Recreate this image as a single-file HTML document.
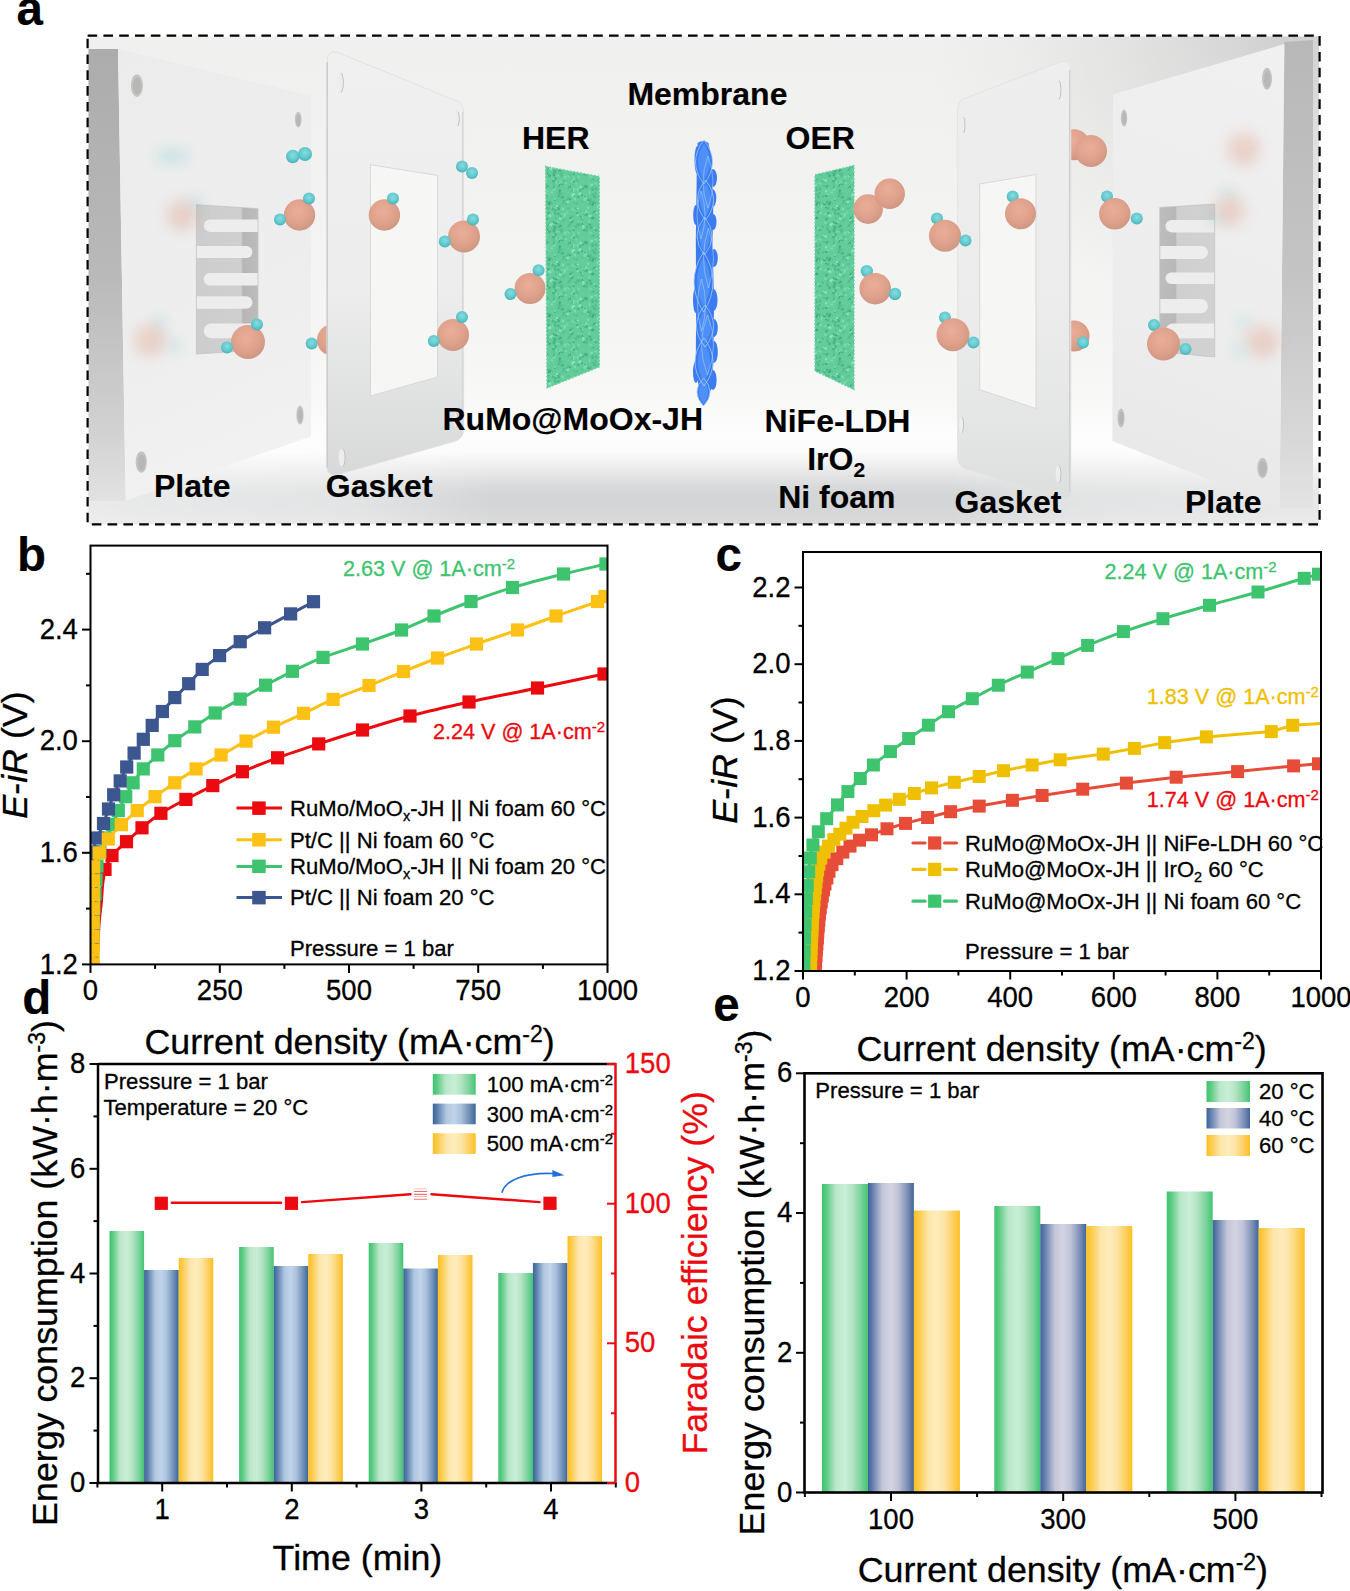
<!DOCTYPE html>
<html><head><meta charset="utf-8"><title>Figure</title>
<style>
html,body{margin:0;padding:0;background:#fff;}
body{width:1350px;height:1591px;overflow:hidden;position:relative;}
svg{position:absolute;left:0;top:0;display:block;}
text{font-family:"Liberation Sans", sans-serif;}
</style></head><body>
<svg width="1350" height="1591" viewBox="0 0 1350 1591">
<rect x="0" y="0" width="1350" height="1591" fill="#fff"/>
<defs>
<clipPath id="clipa"><rect x="88.5" y="36.5" width="1230.5" height="487.5"/></clipPath>
<linearGradient id="bgV" x1="0" y1="36" x2="0" y2="524" gradientUnits="userSpaceOnUse">
 <stop offset="0" stop-color="#f0f0ee"/><stop offset="0.3" stop-color="#f2f2f0"/><stop offset="0.6" stop-color="#f5f5f3"/>
 <stop offset="0.75" stop-color="#f8f8f7"/><stop offset="0.82" stop-color="#fdfdfd"/><stop offset="0.852" stop-color="#fbfbfb"/>
 <stop offset="0.878" stop-color="#efefef"/><stop offset="0.897" stop-color="#e6e6e6"/><stop offset="0.92" stop-color="#dadbdc"/>
 <stop offset="0.94" stop-color="#d3d5d6"/><stop offset="0.965" stop-color="#d3d5d6"/><stop offset="1" stop-color="#dadbdc"/></linearGradient>
<radialGradient id="bgTR" cx="1290" cy="36" r="330" gradientUnits="userSpaceOnUse" gradientTransform="translate(1290 36) scale(1.1 0.9) translate(-1290 -36)">
 <stop offset="0" stop-color="#cfcfcf" stop-opacity="1"/><stop offset="0.5" stop-color="#dcdcdc" stop-opacity="0.6"/><stop offset="1" stop-color="#e6e6e6" stop-opacity="0"/></radialGradient>
<linearGradient id="sideL" x1="0" y1="49" x2="0" y2="502" gradientUnits="userSpaceOnUse">
 <stop offset="0" stop-color="#acacac"/><stop offset="0.5" stop-color="#b9b9b9"/><stop offset="0.85" stop-color="#d2d2d2"/><stop offset="1" stop-color="#e2e2e2"/></linearGradient>
<linearGradient id="sideR" x1="0" y1="44" x2="0" y2="510" gradientUnits="userSpaceOnUse">
 <stop offset="0" stop-color="#b8b8b8"/><stop offset="0.5" stop-color="#c4c4c4"/><stop offset="0.85" stop-color="#d8d8d8"/><stop offset="1" stop-color="#e4e4e4"/></linearGradient>
<linearGradient id="frontL" x1="118" y1="60" x2="300" y2="480" gradientUnits="userSpaceOnUse">
 <stop offset="0" stop-color="#ececec"/><stop offset="0.6" stop-color="#eeeeee"/><stop offset="1" stop-color="#f2f2f2"/></linearGradient>
<linearGradient id="frontR" x1="1280" y1="60" x2="1120" y2="480" gradientUnits="userSpaceOnUse">
 <stop offset="0" stop-color="#f0f0f0"/><stop offset="0.6" stop-color="#ededed"/><stop offset="1" stop-color="#e8e8e8"/></linearGradient>
<linearGradient id="gask" x1="0" y1="50" x2="0" y2="480" gradientUnits="userSpaceOnUse">
 <stop offset="0" stop-color="#f0f0f0"/><stop offset="0.55" stop-color="#ededed"/><stop offset="0.75" stop-color="#e3e4e4"/><stop offset="1" stop-color="#d7d8d8"/></linearGradient>
<linearGradient id="gaskR" x1="0" y1="60" x2="0" y2="500" gradientUnits="userSpaceOnUse">
 <stop offset="0" stop-color="#eeeeee"/><stop offset="0.55" stop-color="#ececec"/><stop offset="0.8" stop-color="#e5e6e6"/><stop offset="1" stop-color="#dddede"/></linearGradient>
<linearGradient id="floorH" x1="88" y1="0" x2="1320" y2="0" gradientUnits="userSpaceOnUse">
 <stop offset="0" stop-color="#ffffff" stop-opacity="0.5"/><stop offset="0.22" stop-color="#ffffff" stop-opacity="0.35"/><stop offset="0.33" stop-color="#ffffff" stop-opacity="0"/>
 <stop offset="0.7" stop-color="#ffffff" stop-opacity="0"/><stop offset="0.8" stop-color="#ffffff" stop-opacity="0.35"/><stop offset="1" stop-color="#ffffff" stop-opacity="0.45"/></linearGradient>
<linearGradient id="chanL" x1="196" y1="0" x2="258" y2="0" gradientUnits="userSpaceOnUse">
 <stop offset="0" stop-color="#cdcdcd"/><stop offset="0.72" stop-color="#cfcfcf"/><stop offset="0.76" stop-color="#b6b6b6"/><stop offset="1" stop-color="#bcbcbc"/></linearGradient>
<linearGradient id="chanR" x1="1160" y1="0" x2="1215" y2="0" gradientUnits="userSpaceOnUse">
 <stop offset="0" stop-color="#bdbdbd"/><stop offset="0.28" stop-color="#b8b8b8"/><stop offset="0.31" stop-color="#cfcfcf"/><stop offset="1" stop-color="#d2d2d2"/></linearGradient>
<radialGradient id="oSph" cx="0.45" cy="0.38" r="0.65">
 <stop offset="0" stop-color="#eaae98"/><stop offset="0.6" stop-color="#dfa18b"/><stop offset="1" stop-color="#cc9683"/></radialGradient>
<radialGradient id="hSph" cx="0.5" cy="0.4" r="0.62">
 <stop offset="0" stop-color="#88dcdf"/><stop offset="0.6" stop-color="#62c9ce"/><stop offset="1" stop-color="#45aeb4"/></radialGradient>
<linearGradient id="memG" x1="692" y1="0" x2="719" y2="0" gradientUnits="userSpaceOnUse">
 <stop offset="0" stop-color="#3a7cf0"/><stop offset="0.3" stop-color="#4a8af6"/><stop offset="0.6" stop-color="#5291f7"/><stop offset="1" stop-color="#3677ee"/></linearGradient>
<filter id="blur6" x="-80%" y="-80%" width="260%" height="260%"><feGaussianBlur stdDeviation="7"/></filter>
<filter id="blur1"><feGaussianBlur stdDeviation="0.6"/></filter>

<pattern id="foamP" x="0" y="0" width="56" height="56" patternUnits="userSpaceOnUse"><rect width="56" height="56" fill="#63cc9b"/><ellipse cx="18.1" cy="8.4" rx="1.8" ry="0.7" fill="#4fb98a" transform="rotate(66 18.1 8.4)"/><ellipse cx="3.2" cy="28.4" rx="0.9" ry="1.0" fill="#4fb98a" transform="rotate(43 3.2 28.4)"/><ellipse cx="30.9" cy="3.3" rx="1.7" ry="1.5" fill="#47b283" transform="rotate(104 30.9 3.3)"/><ellipse cx="22.2" cy="-1.3" rx="0.9" ry="1.4" fill="#7edcb3" transform="rotate(75 22.2 -1.3)"/><ellipse cx="22.2" cy="54.7" rx="0.9" ry="1.4" fill="#7edcb3" transform="rotate(75 22.2 54.7)"/><ellipse cx="30.3" cy="32.0" rx="1.7" ry="1.2" fill="#4fb98a" transform="rotate(105 30.3 32.0)"/><ellipse cx="35.8" cy="20.9" rx="1.7" ry="0.7" fill="#47b283" transform="rotate(111 35.8 20.9)"/><ellipse cx="27.8" cy="29.8" rx="2.0" ry="1.0" fill="#5ac594" transform="rotate(65 27.8 29.8)"/><ellipse cx="13.9" cy="10.1" rx="2.0" ry="0.7" fill="#7edcb3" transform="rotate(95 13.9 10.1)"/><ellipse cx="49.0" cy="40.8" rx="1.3" ry="1.5" fill="#4fb98a" transform="rotate(92 49.0 40.8)"/><ellipse cx="9.2" cy="19.2" rx="2.3" ry="1.0" fill="#4fb98a" transform="rotate(138 9.2 19.2)"/><ellipse cx="32.1" cy="49.0" rx="1.3" ry="1.2" fill="#5ac594" transform="rotate(104 32.1 49.0)"/><ellipse cx="25.5" cy="47.0" rx="2.3" ry="1.0" fill="#4fb98a" transform="rotate(11 25.5 47.0)"/><ellipse cx="39.3" cy="36.2" rx="2.4" ry="1.3" fill="#7edcb3" transform="rotate(129 39.3 36.2)"/><ellipse cx="49.7" cy="19.4" rx="2.3" ry="0.9" fill="#4fb98a" transform="rotate(89 49.7 19.4)"/><ellipse cx="12.2" cy="16.1" rx="2.0" ry="1.0" fill="#5ac594" transform="rotate(15 12.2 16.1)"/><ellipse cx="25.2" cy="30.8" rx="2.2" ry="1.3" fill="#7edcb3" transform="rotate(127 25.2 30.8)"/><ellipse cx="-0.8" cy="38.2" rx="1.4" ry="0.8" fill="#4fb98a" transform="rotate(32 -0.8 38.2)"/><ellipse cx="55.2" cy="38.2" rx="1.4" ry="0.8" fill="#4fb98a" transform="rotate(32 55.2 38.2)"/><ellipse cx="13.0" cy="13.1" rx="1.6" ry="1.1" fill="#7edcb3" transform="rotate(51 13.0 13.1)"/><ellipse cx="8.2" cy="29.9" rx="1.8" ry="0.9" fill="#52bd8c" transform="rotate(124 8.2 29.9)"/><ellipse cx="28.9" cy="34.6" rx="1.9" ry="0.6" fill="#86e2bb" transform="rotate(72 28.9 34.6)"/><ellipse cx="22.1" cy="27.0" rx="1.4" ry="0.8" fill="#43ab7e" transform="rotate(79 22.1 27.0)"/><ellipse cx="6.2" cy="33.6" rx="1.0" ry="1.1" fill="#4fb98a" transform="rotate(171 6.2 33.6)"/><ellipse cx="34.4" cy="3.9" rx="1.1" ry="0.9" fill="#7edcb3" transform="rotate(172 34.4 3.9)"/><ellipse cx="33.7" cy="26.6" rx="1.0" ry="1.0" fill="#5ac594" transform="rotate(86 33.7 26.6)"/><ellipse cx="17.5" cy="8.1" rx="2.0" ry="1.3" fill="#5ac594" transform="rotate(149 17.5 8.1)"/><ellipse cx="9.0" cy="1.3" rx="2.3" ry="1.1" fill="#52bd8c" transform="rotate(124 9.0 1.3)"/><ellipse cx="9.0" cy="57.3" rx="2.3" ry="1.1" fill="#52bd8c" transform="rotate(124 9.0 57.3)"/><ellipse cx="51.2" cy="42.5" rx="1.3" ry="1.2" fill="#4fb98a" transform="rotate(125 51.2 42.5)"/><ellipse cx="14.6" cy="20.5" rx="1.1" ry="1.3" fill="#72d6a8" transform="rotate(115 14.6 20.5)"/><ellipse cx="34.3" cy="44.2" rx="2.0" ry="0.8" fill="#43ab7e" transform="rotate(147 34.3 44.2)"/><ellipse cx="41.4" cy="12.7" rx="1.6" ry="0.9" fill="#47b283" transform="rotate(178 41.4 12.7)"/><ellipse cx="44.2" cy="26.4" rx="1.1" ry="1.1" fill="#72d6a8" transform="rotate(81 44.2 26.4)"/><ellipse cx="52.5" cy="-0.7" rx="2.3" ry="0.9" fill="#43ab7e" transform="rotate(18 52.5 -0.7)"/><ellipse cx="52.5" cy="55.3" rx="2.3" ry="0.9" fill="#43ab7e" transform="rotate(18 52.5 55.3)"/><ellipse cx="26.3" cy="18.9" rx="1.6" ry="1.5" fill="#47b283" transform="rotate(86 26.3 18.9)"/><ellipse cx="36.6" cy="44.8" rx="0.9" ry="1.2" fill="#86e2bb" transform="rotate(141 36.6 44.8)"/><ellipse cx="42.0" cy="26.8" rx="1.1" ry="1.3" fill="#72d6a8" transform="rotate(16 42.0 26.8)"/><ellipse cx="53.0" cy="40.4" rx="1.5" ry="1.3" fill="#4fb98a" transform="rotate(130 53.0 40.4)"/><ellipse cx="9.5" cy="7.1" rx="1.0" ry="1.4" fill="#52bd8c" transform="rotate(110 9.5 7.1)"/><ellipse cx="33.4" cy="26.6" rx="2.3" ry="0.7" fill="#52bd8c" transform="rotate(4 33.4 26.6)"/><ellipse cx="44.8" cy="40.7" rx="1.0" ry="1.3" fill="#52bd8c" transform="rotate(78 44.8 40.7)"/><ellipse cx="48.8" cy="46.3" rx="1.1" ry="0.8" fill="#7edcb3" transform="rotate(90 48.8 46.3)"/><ellipse cx="42.8" cy="18.3" rx="1.7" ry="1.4" fill="#47b283" transform="rotate(164 42.8 18.3)"/><ellipse cx="19.8" cy="25.7" rx="1.7" ry="1.4" fill="#86e2bb" transform="rotate(149 19.8 25.7)"/><ellipse cx="49.2" cy="7.3" rx="1.0" ry="1.1" fill="#5ac594" transform="rotate(140 49.2 7.3)"/><ellipse cx="34.1" cy="43.5" rx="1.0" ry="0.7" fill="#4fb98a" transform="rotate(100 34.1 43.5)"/><ellipse cx="18.3" cy="29.0" rx="1.7" ry="1.3" fill="#4fb98a" transform="rotate(159 18.3 29.0)"/><ellipse cx="3.2" cy="10.7" rx="0.9" ry="0.7" fill="#5ac594" transform="rotate(101 3.2 10.7)"/><ellipse cx="42.6" cy="51.1" rx="1.5" ry="1.2" fill="#43ab7e" transform="rotate(125 42.6 51.1)"/><ellipse cx="25.3" cy="29.9" rx="1.6" ry="1.4" fill="#7edcb3" transform="rotate(166 25.3 29.9)"/><ellipse cx="50.0" cy="11.3" rx="1.5" ry="1.0" fill="#86e2bb" transform="rotate(80 50.0 11.3)"/><ellipse cx="4.1" cy="13.5" rx="0.9" ry="1.2" fill="#4fb98a" transform="rotate(161 4.1 13.5)"/><ellipse cx="8.6" cy="40.1" rx="1.9" ry="0.7" fill="#52bd8c" transform="rotate(174 8.6 40.1)"/><ellipse cx="12.3" cy="-2.7" rx="1.4" ry="1.0" fill="#43ab7e" transform="rotate(29 12.3 -2.7)"/><ellipse cx="12.3" cy="53.3" rx="1.4" ry="1.0" fill="#43ab7e" transform="rotate(29 12.3 53.3)"/><ellipse cx="24.2" cy="28.9" rx="1.3" ry="0.8" fill="#72d6a8" transform="rotate(17 24.2 28.9)"/><ellipse cx="20.5" cy="18.9" rx="1.5" ry="1.2" fill="#86e2bb" transform="rotate(60 20.5 18.9)"/><ellipse cx="34.9" cy="28.7" rx="0.9" ry="1.5" fill="#43ab7e" transform="rotate(175 34.9 28.7)"/><ellipse cx="5.9" cy="14.9" rx="0.9" ry="1.3" fill="#7edcb3" transform="rotate(136 5.9 14.9)"/><ellipse cx="45.9" cy="47.6" rx="1.9" ry="1.5" fill="#86e2bb" transform="rotate(27 45.9 47.6)"/><ellipse cx="51.5" cy="32.0" rx="1.9" ry="0.7" fill="#47b283" transform="rotate(144 51.5 32.0)"/><ellipse cx="10.3" cy="50.1" rx="1.2" ry="0.6" fill="#4fb98a" transform="rotate(144 10.3 50.1)"/><ellipse cx="4.7" cy="47.9" rx="0.9" ry="1.4" fill="#5ac594" transform="rotate(2 4.7 47.9)"/><ellipse cx="-0.3" cy="23.4" rx="2.3" ry="1.2" fill="#47b283" transform="rotate(95 -0.3 23.4)"/><ellipse cx="55.7" cy="23.4" rx="2.3" ry="1.2" fill="#47b283" transform="rotate(95 55.7 23.4)"/><ellipse cx="13.4" cy="6.1" rx="1.1" ry="0.6" fill="#43ab7e" transform="rotate(168 13.4 6.1)"/><ellipse cx="35.2" cy="29.7" rx="1.1" ry="1.0" fill="#52bd8c" transform="rotate(49 35.2 29.7)"/><ellipse cx="45.0" cy="-0.3" rx="0.9" ry="0.6" fill="#43ab7e" transform="rotate(93 45.0 -0.3)"/><ellipse cx="45.0" cy="55.7" rx="0.9" ry="0.6" fill="#43ab7e" transform="rotate(93 45.0 55.7)"/><ellipse cx="13.8" cy="25.0" rx="1.9" ry="1.2" fill="#5ac594" transform="rotate(98 13.8 25.0)"/><ellipse cx="49.8" cy="-1.7" rx="1.3" ry="0.8" fill="#43ab7e" transform="rotate(62 49.8 -1.7)"/><ellipse cx="49.8" cy="54.3" rx="1.3" ry="0.8" fill="#43ab7e" transform="rotate(62 49.8 54.3)"/><ellipse cx="46.6" cy="39.6" rx="1.8" ry="1.0" fill="#72d6a8" transform="rotate(177 46.6 39.6)"/><ellipse cx="46.9" cy="0.8" rx="1.8" ry="1.4" fill="#86e2bb" transform="rotate(29 46.9 0.8)"/><ellipse cx="46.9" cy="56.8" rx="1.8" ry="1.4" fill="#86e2bb" transform="rotate(29 46.9 56.8)"/><ellipse cx="4.7" cy="47.1" rx="2.2" ry="1.2" fill="#7edcb3" transform="rotate(108 4.7 47.1)"/><ellipse cx="38.8" cy="2.5" rx="1.1" ry="0.8" fill="#47b283" transform="rotate(47 38.8 2.5)"/><ellipse cx="38.8" cy="58.5" rx="1.1" ry="0.8" fill="#47b283" transform="rotate(47 38.8 58.5)"/><ellipse cx="-2.1" cy="-1.5" rx="1.7" ry="0.8" fill="#7edcb3" transform="rotate(39 -2.1 -1.5)"/><ellipse cx="-2.1" cy="54.5" rx="1.7" ry="0.8" fill="#7edcb3" transform="rotate(39 -2.1 54.5)"/><ellipse cx="53.9" cy="-1.5" rx="1.7" ry="0.8" fill="#7edcb3" transform="rotate(39 53.9 -1.5)"/><ellipse cx="53.9" cy="54.5" rx="1.7" ry="0.8" fill="#7edcb3" transform="rotate(39 53.9 54.5)"/><ellipse cx="10.2" cy="18.8" rx="0.9" ry="0.9" fill="#43ab7e" transform="rotate(45 10.2 18.8)"/><ellipse cx="43.5" cy="5.1" rx="2.1" ry="0.7" fill="#47b283" transform="rotate(71 43.5 5.1)"/><ellipse cx="16.8" cy="35.3" rx="0.9" ry="1.5" fill="#52bd8c" transform="rotate(118 16.8 35.3)"/><ellipse cx="40.1" cy="49.2" rx="1.4" ry="0.9" fill="#5ac594" transform="rotate(27 40.1 49.2)"/><ellipse cx="40.6" cy="36.0" rx="0.9" ry="1.4" fill="#86e2bb" transform="rotate(132 40.6 36.0)"/><ellipse cx="45.5" cy="7.8" rx="1.6" ry="1.1" fill="#47b283" transform="rotate(149 45.5 7.8)"/><ellipse cx="32.7" cy="50.0" rx="1.9" ry="1.2" fill="#43ab7e" transform="rotate(15 32.7 50.0)"/><ellipse cx="2.3" cy="35.7" rx="2.3" ry="0.9" fill="#5ac594" transform="rotate(101 2.3 35.7)"/><ellipse cx="58.3" cy="35.7" rx="2.3" ry="0.9" fill="#5ac594" transform="rotate(101 58.3 35.7)"/><ellipse cx="35.2" cy="35.1" rx="1.9" ry="1.0" fill="#47b283" transform="rotate(82 35.2 35.1)"/><ellipse cx="3.9" cy="52.2" rx="2.2" ry="0.7" fill="#4fb98a" transform="rotate(134 3.9 52.2)"/><ellipse cx="26.5" cy="45.3" rx="2.2" ry="0.8" fill="#43ab7e" transform="rotate(42 26.5 45.3)"/><ellipse cx="36.4" cy="25.8" rx="2.2" ry="0.7" fill="#7edcb3" transform="rotate(138 36.4 25.8)"/><ellipse cx="34.6" cy="36.0" rx="0.9" ry="0.7" fill="#7edcb3" transform="rotate(117 34.6 36.0)"/><ellipse cx="38.8" cy="34.8" rx="1.0" ry="1.0" fill="#5ac594" transform="rotate(48 38.8 34.8)"/><ellipse cx="37.6" cy="38.8" rx="1.9" ry="0.9" fill="#7edcb3" transform="rotate(84 37.6 38.8)"/><ellipse cx="26.1" cy="6.6" rx="2.2" ry="0.8" fill="#4fb98a" transform="rotate(169 26.1 6.6)"/><ellipse cx="1.0" cy="25.7" rx="2.1" ry="1.5" fill="#5ac594" transform="rotate(179 1.0 25.7)"/><ellipse cx="57.0" cy="25.7" rx="2.1" ry="1.5" fill="#5ac594" transform="rotate(179 57.0 25.7)"/><ellipse cx="21.7" cy="51.3" rx="2.3" ry="0.7" fill="#4fb98a" transform="rotate(26 21.7 51.3)"/><ellipse cx="29.3" cy="-2.6" rx="1.0" ry="1.3" fill="#7edcb3" transform="rotate(160 29.3 -2.6)"/><ellipse cx="29.3" cy="53.4" rx="1.0" ry="1.3" fill="#7edcb3" transform="rotate(160 29.3 53.4)"/><ellipse cx="39.4" cy="13.0" rx="2.2" ry="1.0" fill="#47b283" transform="rotate(29 39.4 13.0)"/><ellipse cx="-2.8" cy="38.2" rx="1.4" ry="1.3" fill="#86e2bb" transform="rotate(62 -2.8 38.2)"/><ellipse cx="53.2" cy="38.2" rx="1.4" ry="1.3" fill="#86e2bb" transform="rotate(62 53.2 38.2)"/><ellipse cx="17.7" cy="47.1" rx="0.8" ry="1.3" fill="#86e2bb" transform="rotate(22 17.7 47.1)"/><ellipse cx="51.9" cy="39.9" rx="2.2" ry="0.9" fill="#72d6a8" transform="rotate(12 51.9 39.9)"/><ellipse cx="21.8" cy="48.7" rx="0.9" ry="1.4" fill="#7edcb3" transform="rotate(154 21.8 48.7)"/><ellipse cx="15.7" cy="2.9" rx="1.9" ry="1.2" fill="#52bd8c" transform="rotate(45 15.7 2.9)"/><ellipse cx="15.7" cy="58.9" rx="1.9" ry="1.2" fill="#52bd8c" transform="rotate(45 15.7 58.9)"/><ellipse cx="14.9" cy="28.6" rx="1.1" ry="0.9" fill="#86e2bb" transform="rotate(159 14.9 28.6)"/><ellipse cx="45.5" cy="35.3" rx="2.3" ry="1.4" fill="#43ab7e" transform="rotate(130 45.5 35.3)"/><ellipse cx="2.8" cy="41.0" rx="1.5" ry="1.3" fill="#7edcb3" transform="rotate(87 2.8 41.0)"/><ellipse cx="58.8" cy="41.0" rx="1.5" ry="1.3" fill="#7edcb3" transform="rotate(87 58.8 41.0)"/><ellipse cx="51.1" cy="30.8" rx="1.1" ry="1.0" fill="#7edcb3" transform="rotate(54 51.1 30.8)"/><ellipse cx="41.4" cy="-1.3" rx="1.2" ry="1.2" fill="#7edcb3" transform="rotate(87 41.4 -1.3)"/><ellipse cx="41.4" cy="54.7" rx="1.2" ry="1.2" fill="#7edcb3" transform="rotate(87 41.4 54.7)"/><ellipse cx="37.5" cy="6.7" rx="1.8" ry="0.7" fill="#5ac594" transform="rotate(99 37.5 6.7)"/><ellipse cx="25.4" cy="18.6" rx="2.0" ry="1.0" fill="#43ab7e" transform="rotate(44 25.4 18.6)"/><ellipse cx="9.8" cy="31.1" rx="1.3" ry="0.9" fill="#43ab7e" transform="rotate(160 9.8 31.1)"/><ellipse cx="42.0" cy="23.1" rx="1.5" ry="1.1" fill="#86e2bb" transform="rotate(49 42.0 23.1)"/><ellipse cx="42.1" cy="27.9" rx="1.7" ry="0.9" fill="#43ab7e" transform="rotate(17 42.1 27.9)"/><ellipse cx="50.2" cy="21.5" rx="1.8" ry="1.0" fill="#7edcb3" transform="rotate(153 50.2 21.5)"/><ellipse cx="48.9" cy="1.2" rx="0.9" ry="1.2" fill="#5ac594" transform="rotate(174 48.9 1.2)"/><ellipse cx="48.9" cy="57.2" rx="0.9" ry="1.2" fill="#5ac594" transform="rotate(174 48.9 57.2)"/><ellipse cx="27.4" cy="4.1" rx="2.3" ry="1.4" fill="#5ac594" transform="rotate(175 27.4 4.1)"/><ellipse cx="13.9" cy="6.1" rx="1.0" ry="1.1" fill="#4fb98a" transform="rotate(169 13.9 6.1)"/><ellipse cx="40.4" cy="36.3" rx="2.0" ry="1.0" fill="#47b283" transform="rotate(0 40.4 36.3)"/><ellipse cx="7.0" cy="31.9" rx="0.9" ry="1.2" fill="#52bd8c" transform="rotate(113 7.0 31.9)"/><ellipse cx="29.6" cy="24.5" rx="2.0" ry="0.7" fill="#7edcb3" transform="rotate(94 29.6 24.5)"/><ellipse cx="32.6" cy="21.7" rx="1.2" ry="1.1" fill="#47b283" transform="rotate(97 32.6 21.7)"/><ellipse cx="-0.2" cy="15.6" rx="1.3" ry="1.4" fill="#43ab7e" transform="rotate(86 -0.2 15.6)"/><ellipse cx="55.8" cy="15.6" rx="1.3" ry="1.4" fill="#43ab7e" transform="rotate(86 55.8 15.6)"/><ellipse cx="13.1" cy="13.8" rx="2.3" ry="1.2" fill="#7edcb3" transform="rotate(10 13.1 13.8)"/><ellipse cx="10.9" cy="49.6" rx="1.8" ry="0.7" fill="#43ab7e" transform="rotate(120 10.9 49.6)"/><ellipse cx="51.8" cy="12.7" rx="0.9" ry="0.9" fill="#86e2bb" transform="rotate(65 51.8 12.7)"/><ellipse cx="22.2" cy="0.4" rx="1.3" ry="1.4" fill="#4fb98a" transform="rotate(37 22.2 0.4)"/><ellipse cx="22.2" cy="56.4" rx="1.3" ry="1.4" fill="#4fb98a" transform="rotate(37 22.2 56.4)"/><ellipse cx="-1.7" cy="17.5" rx="2.1" ry="0.8" fill="#43ab7e" transform="rotate(48 -1.7 17.5)"/><ellipse cx="54.3" cy="17.5" rx="2.1" ry="0.8" fill="#43ab7e" transform="rotate(48 54.3 17.5)"/><ellipse cx="49.8" cy="6.1" rx="1.8" ry="1.1" fill="#43ab7e" transform="rotate(87 49.8 6.1)"/><ellipse cx="51.0" cy="3.2" rx="1.8" ry="1.4" fill="#47b283" transform="rotate(38 51.0 3.2)"/><ellipse cx="-1.4" cy="7.9" rx="0.9" ry="0.7" fill="#86e2bb" transform="rotate(81 -1.4 7.9)"/><ellipse cx="54.6" cy="7.9" rx="0.9" ry="0.7" fill="#86e2bb" transform="rotate(81 54.6 7.9)"/><ellipse cx="39.9" cy="17.6" rx="1.0" ry="0.7" fill="#52bd8c" transform="rotate(59 39.9 17.6)"/><ellipse cx="10.4" cy="52.4" rx="2.0" ry="0.6" fill="#86e2bb" transform="rotate(151 10.4 52.4)"/><ellipse cx="-0.8" cy="24.8" rx="1.0" ry="0.7" fill="#4fb98a" transform="rotate(63 -0.8 24.8)"/><ellipse cx="55.2" cy="24.8" rx="1.0" ry="0.7" fill="#4fb98a" transform="rotate(63 55.2 24.8)"/><ellipse cx="-2.5" cy="6.9" rx="2.3" ry="0.8" fill="#72d6a8" transform="rotate(138 -2.5 6.9)"/><ellipse cx="53.5" cy="6.9" rx="2.3" ry="0.8" fill="#72d6a8" transform="rotate(138 53.5 6.9)"/><ellipse cx="17.3" cy="45.0" rx="0.9" ry="1.2" fill="#43ab7e" transform="rotate(67 17.3 45.0)"/><ellipse cx="51.5" cy="10.8" rx="1.4" ry="1.4" fill="#47b283" transform="rotate(114 51.5 10.8)"/><ellipse cx="13.9" cy="35.0" rx="1.4" ry="0.9" fill="#5ac594" transform="rotate(11 13.9 35.0)"/><ellipse cx="51.5" cy="14.4" rx="2.0" ry="1.4" fill="#72d6a8" transform="rotate(65 51.5 14.4)"/><ellipse cx="18.8" cy="-2.6" rx="0.9" ry="1.3" fill="#72d6a8" transform="rotate(166 18.8 -2.6)"/><ellipse cx="18.8" cy="53.4" rx="0.9" ry="1.3" fill="#72d6a8" transform="rotate(166 18.8 53.4)"/><ellipse cx="16.7" cy="40.4" rx="1.8" ry="1.3" fill="#4fb98a" transform="rotate(4 16.7 40.4)"/><ellipse cx="13.1" cy="26.6" rx="2.3" ry="1.5" fill="#86e2bb" transform="rotate(142 13.1 26.6)"/><ellipse cx="51.2" cy="45.6" rx="1.0" ry="1.0" fill="#47b283" transform="rotate(144 51.2 45.6)"/><ellipse cx="41.4" cy="46.1" rx="2.0" ry="1.1" fill="#72d6a8" transform="rotate(155 41.4 46.1)"/><ellipse cx="25.8" cy="43.9" rx="1.8" ry="1.1" fill="#86e2bb" transform="rotate(136 25.8 43.9)"/><ellipse cx="13.8" cy="3.6" rx="0.9" ry="1.1" fill="#72d6a8" transform="rotate(29 13.8 3.6)"/><ellipse cx="23.9" cy="5.9" rx="0.9" ry="1.2" fill="#43ab7e" transform="rotate(17 23.9 5.9)"/><ellipse cx="27.9" cy="39.7" rx="1.5" ry="0.8" fill="#86e2bb" transform="rotate(83 27.9 39.7)"/><ellipse cx="49.9" cy="13.2" rx="1.7" ry="1.3" fill="#4fb98a" transform="rotate(140 49.9 13.2)"/><ellipse cx="16.5" cy="15.6" rx="1.2" ry="0.8" fill="#7edcb3" transform="rotate(36 16.5 15.6)"/><ellipse cx="13.9" cy="13.7" rx="1.0" ry="1.4" fill="#43ab7e" transform="rotate(59 13.9 13.7)"/><ellipse cx="22.2" cy="-0.4" rx="1.6" ry="0.8" fill="#4fb98a" transform="rotate(118 22.2 -0.4)"/><ellipse cx="22.2" cy="55.6" rx="1.6" ry="0.8" fill="#4fb98a" transform="rotate(118 22.2 55.6)"/><ellipse cx="-0.5" cy="5.7" rx="1.6" ry="1.3" fill="#5ac594" transform="rotate(165 -0.5 5.7)"/><ellipse cx="55.5" cy="5.7" rx="1.6" ry="1.3" fill="#5ac594" transform="rotate(165 55.5 5.7)"/><ellipse cx="2.3" cy="16.4" rx="1.0" ry="0.8" fill="#43ab7e" transform="rotate(167 2.3 16.4)"/><ellipse cx="58.3" cy="16.4" rx="1.0" ry="0.8" fill="#43ab7e" transform="rotate(167 58.3 16.4)"/><ellipse cx="20.8" cy="48.5" rx="1.5" ry="0.8" fill="#47b283" transform="rotate(19 20.8 48.5)"/><ellipse cx="33.4" cy="34.7" rx="1.1" ry="0.9" fill="#52bd8c" transform="rotate(8 33.4 34.7)"/><ellipse cx="-0.0" cy="2.1" rx="2.0" ry="1.4" fill="#47b283" transform="rotate(147 -0.0 2.1)"/><ellipse cx="-0.0" cy="58.1" rx="2.0" ry="1.4" fill="#47b283" transform="rotate(147 -0.0 58.1)"/><ellipse cx="56.0" cy="2.1" rx="2.0" ry="1.4" fill="#47b283" transform="rotate(147 56.0 2.1)"/><ellipse cx="56.0" cy="58.1" rx="2.0" ry="1.4" fill="#47b283" transform="rotate(147 56.0 58.1)"/><ellipse cx="22.9" cy="20.8" rx="1.8" ry="0.7" fill="#47b283" transform="rotate(143 22.9 20.8)"/><ellipse cx="30.7" cy="3.5" rx="1.0" ry="1.0" fill="#52bd8c" transform="rotate(115 30.7 3.5)"/><ellipse cx="5.1" cy="9.2" rx="1.9" ry="1.0" fill="#7edcb3" transform="rotate(120 5.1 9.2)"/><ellipse cx="23.4" cy="2.9" rx="2.0" ry="1.4" fill="#86e2bb" transform="rotate(75 23.4 2.9)"/><ellipse cx="23.4" cy="58.9" rx="2.0" ry="1.4" fill="#86e2bb" transform="rotate(75 23.4 58.9)"/><ellipse cx="48.4" cy="-0.2" rx="1.4" ry="0.8" fill="#86e2bb" transform="rotate(37 48.4 -0.2)"/><ellipse cx="48.4" cy="55.8" rx="1.4" ry="0.8" fill="#86e2bb" transform="rotate(37 48.4 55.8)"/><ellipse cx="0.3" cy="50.5" rx="1.5" ry="1.3" fill="#86e2bb" transform="rotate(104 0.3 50.5)"/><ellipse cx="56.3" cy="50.5" rx="1.5" ry="1.3" fill="#86e2bb" transform="rotate(104 56.3 50.5)"/><ellipse cx="20.4" cy="43.3" rx="1.0" ry="0.6" fill="#52bd8c" transform="rotate(115 20.4 43.3)"/><ellipse cx="50.9" cy="5.0" rx="1.8" ry="0.9" fill="#52bd8c" transform="rotate(26 50.9 5.0)"/><ellipse cx="15.9" cy="29.2" rx="2.3" ry="0.7" fill="#5ac594" transform="rotate(136 15.9 29.2)"/><ellipse cx="44.4" cy="45.1" rx="1.3" ry="1.4" fill="#47b283" transform="rotate(176 44.4 45.1)"/><ellipse cx="27.0" cy="3.0" rx="2.3" ry="0.9" fill="#52bd8c" transform="rotate(115 27.0 3.0)"/><ellipse cx="27.0" cy="59.0" rx="2.3" ry="0.9" fill="#52bd8c" transform="rotate(115 27.0 59.0)"/><ellipse cx="48.0" cy="34.8" rx="1.8" ry="0.8" fill="#5ac594" transform="rotate(33 48.0 34.8)"/><ellipse cx="12.2" cy="22.4" rx="1.6" ry="0.9" fill="#4fb98a" transform="rotate(27 12.2 22.4)"/><ellipse cx="-1.6" cy="45.7" rx="1.1" ry="1.4" fill="#47b283" transform="rotate(120 -1.6 45.7)"/><ellipse cx="54.4" cy="45.7" rx="1.1" ry="1.4" fill="#47b283" transform="rotate(120 54.4 45.7)"/><ellipse cx="18.2" cy="21.8" rx="1.5" ry="1.4" fill="#7edcb3" transform="rotate(117 18.2 21.8)"/><ellipse cx="17.3" cy="14.0" rx="1.4" ry="0.9" fill="#5ac594" transform="rotate(32 17.3 14.0)"/><ellipse cx="0.2" cy="-0.8" rx="1.5" ry="1.0" fill="#5ac594" transform="rotate(151 0.2 -0.8)"/><ellipse cx="0.2" cy="55.2" rx="1.5" ry="1.0" fill="#5ac594" transform="rotate(151 0.2 55.2)"/><ellipse cx="56.2" cy="-0.8" rx="1.5" ry="1.0" fill="#5ac594" transform="rotate(151 56.2 -0.8)"/><ellipse cx="56.2" cy="55.2" rx="1.5" ry="1.0" fill="#5ac594" transform="rotate(151 56.2 55.2)"/><ellipse cx="45.4" cy="22.4" rx="0.9" ry="0.9" fill="#72d6a8" transform="rotate(17 45.4 22.4)"/><ellipse cx="24.8" cy="28.6" rx="0.9" ry="1.2" fill="#4fb98a" transform="rotate(166 24.8 28.6)"/><ellipse cx="17.6" cy="40.3" rx="0.9" ry="1.3" fill="#86e2bb" transform="rotate(117 17.6 40.3)"/><ellipse cx="43.9" cy="1.4" rx="0.9" ry="1.2" fill="#4fb98a" transform="rotate(35 43.9 1.4)"/><ellipse cx="43.9" cy="57.4" rx="0.9" ry="1.2" fill="#4fb98a" transform="rotate(35 43.9 57.4)"/><ellipse cx="-1.0" cy="27.5" rx="2.3" ry="1.4" fill="#52bd8c" transform="rotate(124 -1.0 27.5)"/><ellipse cx="55.0" cy="27.5" rx="2.3" ry="1.4" fill="#52bd8c" transform="rotate(124 55.0 27.5)"/><ellipse cx="40.4" cy="12.4" rx="2.1" ry="1.1" fill="#7edcb3" transform="rotate(29 40.4 12.4)"/><ellipse cx="50.2" cy="15.4" rx="2.1" ry="0.7" fill="#5ac594" transform="rotate(37 50.2 15.4)"/><ellipse cx="14.7" cy="28.3" rx="1.3" ry="0.6" fill="#52bd8c" transform="rotate(73 14.7 28.3)"/><ellipse cx="35.6" cy="15.6" rx="1.3" ry="0.9" fill="#7edcb3" transform="rotate(21 35.6 15.6)"/><ellipse cx="29.7" cy="35.6" rx="1.4" ry="1.4" fill="#4fb98a" transform="rotate(45 29.7 35.6)"/><ellipse cx="30.0" cy="48.0" rx="2.0" ry="0.9" fill="#86e2bb" transform="rotate(178 30.0 48.0)"/><ellipse cx="32.3" cy="20.2" rx="2.0" ry="1.0" fill="#52bd8c" transform="rotate(111 32.3 20.2)"/><ellipse cx="-2.4" cy="16.6" rx="1.6" ry="0.9" fill="#72d6a8" transform="rotate(132 -2.4 16.6)"/><ellipse cx="53.6" cy="16.6" rx="1.6" ry="0.9" fill="#72d6a8" transform="rotate(132 53.6 16.6)"/><ellipse cx="41.8" cy="12.4" rx="1.3" ry="1.2" fill="#86e2bb" transform="rotate(92 41.8 12.4)"/><ellipse cx="50.2" cy="7.4" rx="1.2" ry="1.2" fill="#47b283" transform="rotate(10 50.2 7.4)"/><ellipse cx="31.8" cy="17.0" rx="1.6" ry="1.1" fill="#86e2bb" transform="rotate(105 31.8 17.0)"/><ellipse cx="33.0" cy="11.4" rx="1.8" ry="1.0" fill="#52bd8c" transform="rotate(3 33.0 11.4)"/><ellipse cx="44.9" cy="39.6" rx="1.5" ry="0.7" fill="#52bd8c" transform="rotate(157 44.9 39.6)"/><ellipse cx="43.8" cy="22.5" rx="1.2" ry="0.6" fill="#72d6a8" transform="rotate(107 43.8 22.5)"/><ellipse cx="32.4" cy="33.7" rx="1.6" ry="1.0" fill="#52bd8c" transform="rotate(163 32.4 33.7)"/><ellipse cx="2.5" cy="29.8" rx="1.4" ry="0.8" fill="#47b283" transform="rotate(164 2.5 29.8)"/><ellipse cx="58.5" cy="29.8" rx="1.4" ry="0.8" fill="#47b283" transform="rotate(164 58.5 29.8)"/><ellipse cx="5.9" cy="34.3" rx="1.9" ry="0.8" fill="#86e2bb" transform="rotate(36 5.9 34.3)"/><ellipse cx="34.1" cy="28.4" rx="1.8" ry="1.3" fill="#52bd8c" transform="rotate(92 34.1 28.4)"/><ellipse cx="3.6" cy="35.1" rx="2.4" ry="1.3" fill="#5ac594" transform="rotate(129 3.6 35.1)"/><ellipse cx="0.4" cy="47.3" rx="2.0" ry="1.0" fill="#5ac594" transform="rotate(32 0.4 47.3)"/><ellipse cx="56.4" cy="47.3" rx="2.0" ry="1.0" fill="#5ac594" transform="rotate(32 56.4 47.3)"/><ellipse cx="-0.2" cy="14.6" rx="1.8" ry="0.7" fill="#7edcb3" transform="rotate(128 -0.2 14.6)"/><ellipse cx="55.8" cy="14.6" rx="1.8" ry="0.7" fill="#7edcb3" transform="rotate(128 55.8 14.6)"/><ellipse cx="14.9" cy="31.0" rx="1.5" ry="1.3" fill="#7edcb3" transform="rotate(53 14.9 31.0)"/><ellipse cx="52.0" cy="50.1" rx="0.9" ry="1.1" fill="#52bd8c" transform="rotate(47 52.0 50.1)"/><ellipse cx="13.2" cy="41.7" rx="2.3" ry="1.3" fill="#72d6a8" transform="rotate(35 13.2 41.7)"/><ellipse cx="21.8" cy="33.7" rx="1.4" ry="1.4" fill="#5ac594" transform="rotate(85 21.8 33.7)"/><ellipse cx="29.7" cy="0.4" rx="0.8" ry="1.5" fill="#43ab7e" transform="rotate(103 29.7 0.4)"/><ellipse cx="29.7" cy="56.4" rx="0.8" ry="1.5" fill="#43ab7e" transform="rotate(103 29.7 56.4)"/><ellipse cx="17.2" cy="11.9" rx="1.8" ry="0.7" fill="#52bd8c" transform="rotate(26 17.2 11.9)"/><ellipse cx="1.5" cy="6.0" rx="2.3" ry="0.9" fill="#52bd8c" transform="rotate(126 1.5 6.0)"/><ellipse cx="57.5" cy="6.0" rx="2.3" ry="0.9" fill="#52bd8c" transform="rotate(126 57.5 6.0)"/><ellipse cx="1.7" cy="7.8" rx="1.8" ry="0.6" fill="#4fb98a" transform="rotate(133 1.7 7.8)"/><ellipse cx="57.7" cy="7.8" rx="1.8" ry="0.6" fill="#4fb98a" transform="rotate(133 57.7 7.8)"/><ellipse cx="3.7" cy="33.1" rx="1.4" ry="1.3" fill="#4fb98a" transform="rotate(158 3.7 33.1)"/><ellipse cx="42.3" cy="39.8" rx="1.4" ry="0.8" fill="#43ab7e" transform="rotate(20 42.3 39.8)"/><ellipse cx="1.9" cy="47.5" rx="2.1" ry="1.2" fill="#7edcb3" transform="rotate(86 1.9 47.5)"/><ellipse cx="57.9" cy="47.5" rx="2.1" ry="1.2" fill="#7edcb3" transform="rotate(86 57.9 47.5)"/><ellipse cx="7.4" cy="44.4" rx="1.8" ry="0.9" fill="#72d6a8" transform="rotate(76 7.4 44.4)"/><ellipse cx="1.2" cy="14.4" rx="1.3" ry="1.2" fill="#72d6a8" transform="rotate(164 1.2 14.4)"/><ellipse cx="57.2" cy="14.4" rx="1.3" ry="1.2" fill="#72d6a8" transform="rotate(164 57.2 14.4)"/><ellipse cx="43.1" cy="33.7" rx="1.6" ry="0.9" fill="#47b283" transform="rotate(142 43.1 33.7)"/><ellipse cx="1.7" cy="29.0" rx="1.0" ry="1.0" fill="#47b283" transform="rotate(97 1.7 29.0)"/><ellipse cx="57.7" cy="29.0" rx="1.0" ry="1.0" fill="#47b283" transform="rotate(97 57.7 29.0)"/><ellipse cx="12.1" cy="48.3" rx="0.9" ry="1.3" fill="#52bd8c" transform="rotate(78 12.1 48.3)"/><ellipse cx="29.3" cy="16.1" rx="2.0" ry="0.6" fill="#72d6a8" transform="rotate(88 29.3 16.1)"/><ellipse cx="27.5" cy="44.6" rx="1.1" ry="1.0" fill="#72d6a8" transform="rotate(172 27.5 44.6)"/><ellipse cx="28.8" cy="32.4" rx="1.1" ry="1.3" fill="#43ab7e" transform="rotate(90 28.8 32.4)"/><ellipse cx="6.2" cy="35.6" rx="0.9" ry="1.3" fill="#4fb98a" transform="rotate(113 6.2 35.6)"/><ellipse cx="19.9" cy="22.5" rx="1.4" ry="1.4" fill="#4fb98a" transform="rotate(76 19.9 22.5)"/><ellipse cx="36.2" cy="20.8" rx="1.3" ry="1.0" fill="#52bd8c" transform="rotate(68 36.2 20.8)"/><ellipse cx="49.5" cy="13.1" rx="1.5" ry="1.1" fill="#47b283" transform="rotate(63 49.5 13.1)"/><ellipse cx="18.3" cy="8.7" rx="2.1" ry="1.2" fill="#72d6a8" transform="rotate(31 18.3 8.7)"/><ellipse cx="24.6" cy="43.3" rx="1.7" ry="0.7" fill="#5ac594" transform="rotate(116 24.6 43.3)"/><ellipse cx="39.0" cy="28.4" rx="1.2" ry="1.3" fill="#52bd8c" transform="rotate(130 39.0 28.4)"/><ellipse cx="-1.4" cy="40.5" rx="1.8" ry="0.9" fill="#43ab7e" transform="rotate(59 -1.4 40.5)"/><ellipse cx="54.6" cy="40.5" rx="1.8" ry="0.9" fill="#43ab7e" transform="rotate(59 54.6 40.5)"/><ellipse cx="10.6" cy="-1.4" rx="2.0" ry="0.7" fill="#4fb98a" transform="rotate(35 10.6 -1.4)"/><ellipse cx="10.6" cy="54.6" rx="2.0" ry="0.7" fill="#4fb98a" transform="rotate(35 10.6 54.6)"/><ellipse cx="8.5" cy="8.3" rx="1.3" ry="0.9" fill="#7edcb3" transform="rotate(35 8.5 8.3)"/><ellipse cx="35.7" cy="6.0" rx="1.1" ry="0.9" fill="#47b283" transform="rotate(2 35.7 6.0)"/><ellipse cx="47.8" cy="24.4" rx="1.2" ry="1.5" fill="#7edcb3" transform="rotate(83 47.8 24.4)"/><ellipse cx="7.9" cy="33.8" rx="1.4" ry="1.3" fill="#86e2bb" transform="rotate(126 7.9 33.8)"/><ellipse cx="32.9" cy="36.2" rx="2.2" ry="1.2" fill="#43ab7e" transform="rotate(122 32.9 36.2)"/><ellipse cx="35.9" cy="25.4" rx="1.3" ry="1.2" fill="#4fb98a" transform="rotate(161 35.9 25.4)"/><ellipse cx="13.6" cy="22.4" rx="1.9" ry="0.7" fill="#86e2bb" transform="rotate(87 13.6 22.4)"/><ellipse cx="1.1" cy="48.1" rx="1.6" ry="1.2" fill="#52bd8c" transform="rotate(161 1.1 48.1)"/><ellipse cx="57.1" cy="48.1" rx="1.6" ry="1.2" fill="#52bd8c" transform="rotate(161 57.1 48.1)"/><ellipse cx="18.4" cy="0.6" rx="2.1" ry="1.4" fill="#4fb98a" transform="rotate(7 18.4 0.6)"/><ellipse cx="18.4" cy="56.6" rx="2.1" ry="1.4" fill="#4fb98a" transform="rotate(7 18.4 56.6)"/><ellipse cx="30.4" cy="9.0" rx="2.1" ry="1.4" fill="#72d6a8" transform="rotate(18 30.4 9.0)"/></pattern>
</defs>
<g clip-path="url(#clipa)">
<rect x="88" y="36" width="1232" height="489" fill="url(#bgV)"/>
<rect x="88" y="36" width="1232" height="420" fill="url(#bgTR)"/>
<rect x="88" y="440" width="1232" height="85" fill="url(#floorH)"/>
<polygon points="86,49 118,49 125.7,500.8 86,501" fill="url(#sideL)"/>
<polygon points="118,49 311,96 311,436.5 125.7,500.8" fill="url(#frontL)"/>
<ellipse cx="136.9" cy="85.6" rx="6" ry="11.3" fill="#c3c3c1"/><ellipse cx="137.20000000000002" cy="86.1" rx="4.2" ry="8.5" fill="#b7b7b5"/>
<ellipse cx="298.2" cy="119.6" rx="3.3" ry="7.8" fill="#c3c3c1"/><ellipse cx="298.5" cy="120.1" rx="2.3" ry="5.8" fill="#b7b7b5"/>
<ellipse cx="300" cy="415" rx="3.6" ry="9.4" fill="#c3c3c1"/><ellipse cx="300.3" cy="415.5" rx="2.5" ry="7.1" fill="#b7b7b5"/>
<ellipse cx="141.3" cy="462" rx="5.6" ry="10.8" fill="#c3c3c1"/><ellipse cx="141.60000000000002" cy="462.5" rx="3.9" ry="8.1" fill="#b7b7b5"/>
<clipPath id="chL"><polygon points="196.4,204.7 258,208.7 258,350 196.4,354"/></clipPath>
<polygon points="196.4,204.7 258,208.7 258,350 196.4,354" fill="url(#chanL)"/>
<g clip-path="url(#chL)">
<rect x="203.8" y="219.4" width="80" height="12.5" rx="6.2" fill="#ededed"/>
<rect x="170" y="246" width="82.4" height="11.9" rx="5.9" fill="#ededed"/>
<rect x="203.8" y="273" width="80" height="12.6" rx="6.3" fill="#ededed"/>
<rect x="170" y="296.3" width="82.4" height="12.5" rx="6.2" fill="#ededed"/>
<rect x="203.8" y="323.5" width="80" height="14.7" rx="7.3" fill="#ededed"/>
</g>
<polygon points="196.4,204.7 258,208.7 258,350 196.4,354" fill="none" stroke="#c4c4c4" stroke-width="0.8"/>
<g filter="url(#blur6)" opacity="0.4"><circle cx="182" cy="215" r="15" fill="url(#oSph)"/><circle cx="150" cy="340" r="16" fill="url(#oSph)"/></g>
<g filter="url(#blur6)" opacity="0.45"><circle cx="165" cy="156" r="6" fill="url(#hSph)"/><circle cx="180" cy="156" r="6" fill="url(#hSph)"/><circle cx="175" cy="346" r="5" fill="url(#hSph)"/><circle cx="160" cy="322" r="5" fill="url(#hSph)"/><circle cx="196" cy="203" r="5" fill="url(#hSph)"/></g>
<circle cx="248" cy="342" r="17" fill="url(#oSph)"/><circle cx="257" cy="324.5" r="6" fill="url(#hSph)"/><circle cx="227" cy="347.6" r="6" fill="url(#hSph)"/>
<circle cx="299.5" cy="215" r="15.7" fill="url(#oSph)"/><circle cx="309" cy="198.5" r="6" fill="url(#hSph)"/><circle cx="280" cy="219.6" r="6" fill="url(#hSph)"/>
<circle cx="292.8" cy="156.5" r="6.8" fill="url(#hSph)"/><circle cx="305" cy="154" r="7" fill="url(#hSph)"/>
<circle cx="333" cy="340" r="16" fill="url(#oSph)"/><circle cx="311.7" cy="343.5" r="6" fill="url(#hSph)"/>
<path d="M337,52 Q327,50 327,62 L327,466 Q327,477 338,474.5 L454,441.5 Q463.6,439 463.6,429 L463.6,112 Q463.6,102 454,100 Z" fill="url(#gask)" stroke="#e2e2e2" stroke-width="1"/>
<path d="M327.2,62 L327.2,468" stroke="#c8c8c8" stroke-width="1.3"/>
<path d="M462.6,112 L462.6,430" stroke="#d8d8d8" stroke-width="1.5"/>
<polygon points="370.5,164.7 437.5,175.4 437.5,377 370.5,396" fill="#f6f6f4" stroke="#d6d6d6" stroke-width="0.9"/>
<ellipse cx="340.8" cy="82.7" rx="3" ry="10" fill="#bdbdbd"/><ellipse cx="339.90000000000003" cy="82.7" rx="3" ry="10" fill="#ededed"/>
<ellipse cx="457.8" cy="118.9" rx="1.9" ry="7.4" fill="#bdbdbd"/><ellipse cx="456.90000000000003" cy="118.9" rx="1.9" ry="7.4" fill="#ededed"/>
<ellipse cx="342.6" cy="457.7" rx="3" ry="9" fill="#bdbdbd"/><ellipse cx="341.70000000000005" cy="457.7" rx="3" ry="9" fill="#ededed"/>
<ellipse cx="456.5" cy="420" rx="2" ry="7" fill="#bdbdbd"/><ellipse cx="455.6" cy="420" rx="2" ry="7" fill="#ededed"/>
<circle cx="384.4" cy="215" r="15.7" fill="url(#oSph)"/><circle cx="393" cy="198.5" r="6" fill="url(#hSph)"/>
<circle cx="464" cy="236.5" r="16" fill="url(#oSph)"/><circle cx="473" cy="219.6" r="6" fill="url(#hSph)"/><circle cx="444.8" cy="241.6" r="6" fill="url(#hSph)"/>
<circle cx="453" cy="335" r="16" fill="url(#oSph)"/><circle cx="462" cy="317" r="6" fill="url(#hSph)"/><circle cx="433.8" cy="341" r="6" fill="url(#hSph)"/>
<circle cx="462" cy="166.5" r="6" fill="url(#hSph)"/><circle cx="472" cy="173" r="6" fill="url(#hSph)"/>
<polygon points="545.6,166.4 599.3,176.5 599.3,366.9 547,387.9" fill="url(#foamP)"/>
<polygon points="545.6,166.4 599.3,176.5 599.3,366.9 547,387.9" fill="none" stroke="#6fd2a4" stroke-width="1.3" stroke-dasharray="2 1.5"/>
<circle cx="530" cy="288.5" r="15.5" fill="url(#oSph)"/><circle cx="538.6" cy="270.3" r="6" fill="url(#hSph)"/><circle cx="510.5" cy="294" r="6" fill="url(#hSph)"/>
<g>
<path d="M697.5,143 Q703,139 708.5,143 L712,160 L706,170 L699,168 Z" fill="#3f7ef0"/>
<path d="M697,150 Q703,143 710,150 L713.5,200 L712.5,240 L714,300 L713.5,360 L712,388 Q705,402 699,392 L695.8,360 L696.2,300 L695.8,240 L696.5,190 Z" fill="#3b7bf0"/>
<path d="M704,140 Q721.0,162 704,184 Q687.0,162 704,140 Z" fill="#3a7aef"/>
<path d="M705.5,180 Q721.5,200 705.5,220 Q689.5,200 705.5,180 Z" fill="#3a7aef"/>
<path d="M704.5,217 Q719.5,236 704.5,255 Q689.5,236 704.5,217 Z" fill="#3a7aef"/>
<path d="M703.5,252 Q722.5,282 703.5,312 Q684.5,282 703.5,252 Z" fill="#3a7aef"/>
<path d="M705,305 Q722.0,326 705,347 Q688.0,326 705,305 Z" fill="#3a7aef"/>
<path d="M704,338 Q722,362 704,386 Q686,362 704,338 Z" fill="#3a7aef"/>
<path d="M703.5,378 Q716.5,392 703.5,406 Q690.5,392 703.5,378 Z" fill="#3a7aef"/>
<ellipse cx="713" cy="178" rx="4" ry="9" fill="#3c7cf0"/>
<ellipse cx="712.5" cy="198" rx="3.8" ry="9" fill="#3c7cf0"/>
<ellipse cx="713" cy="222" rx="3.5" ry="8" fill="#3c7cf0"/>
<ellipse cx="714" cy="258" rx="3.8" ry="9" fill="#3c7cf0"/>
<ellipse cx="713.5" cy="300" rx="4" ry="11" fill="#3c7cf0"/>
<ellipse cx="714" cy="328" rx="3.8" ry="9" fill="#3c7cf0"/>
<ellipse cx="714" cy="352" rx="3.8" ry="11" fill="#3c7cf0"/>
<ellipse cx="713" cy="380" rx="3.6" ry="10" fill="#3c7cf0"/>
<ellipse cx="696" cy="300" rx="3" ry="13" fill="#3c7cf0"/>
<ellipse cx="695.8" cy="215" rx="2.6" ry="10" fill="#3c7cf0"/>
<ellipse cx="696" cy="372" rx="3" ry="11" fill="#3c7cf0"/>
<ellipse cx="697.5" cy="160" rx="3" ry="14" fill="#3c7cf0"/>
<path d="M704,143.3 Q715.9,162 704,180.7 Q692.1,162 704,143.3 Z" fill="#4f8ff8"/>
<path d="M705.5,183.0 Q716.7,200 705.5,217.0 Q694.3,200 705.5,183.0 Z" fill="#4f8ff8"/>
<path d="M704.5,219.85 Q715.0,236 704.5,252.15 Q694.0,236 704.5,219.85 Z" fill="#4f8ff8"/>
<path d="M703.5,256.5 Q716.8,282 703.5,307.5 Q690.2,282 703.5,256.5 Z" fill="#4f8ff8"/>
<path d="M705,308.15 Q716.9,326 705,343.85 Q693.1,326 705,308.15 Z" fill="#4f8ff8"/>
<path d="M704,341.6 Q716.6,362 704,382.4 Q691.4,362 704,341.6 Z" fill="#4f8ff8"/>
<path d="M703.5,380.1 Q712.6,392 703.5,403.9 Q694.4,392 703.5,380.1 Z" fill="#4f8ff8"/>
<path d="M704,140 Q721.0,162 704,184 Q687.0,162 704,140 Z" fill="none" stroke="#a6d0ff" stroke-opacity="0.75" stroke-width="1"/>
<path d="M705.5,180 Q721.5,200 705.5,220 Q689.5,200 705.5,180 Z" fill="none" stroke="#a6d0ff" stroke-opacity="0.75" stroke-width="1"/>
<path d="M704.5,217 Q719.5,236 704.5,255 Q689.5,236 704.5,217 Z" fill="none" stroke="#a6d0ff" stroke-opacity="0.75" stroke-width="1"/>
<path d="M703.5,252 Q722.5,282 703.5,312 Q684.5,282 703.5,252 Z" fill="none" stroke="#a6d0ff" stroke-opacity="0.75" stroke-width="1"/>
<path d="M705,305 Q722.0,326 705,347 Q688.0,326 705,305 Z" fill="none" stroke="#a6d0ff" stroke-opacity="0.75" stroke-width="1"/>
<path d="M704,338 Q722,362 704,386 Q686,362 704,338 Z" fill="none" stroke="#a6d0ff" stroke-opacity="0.75" stroke-width="1"/>
<path d="M703.5,378 Q716.5,392 703.5,406 Q690.5,392 703.5,378 Z" fill="none" stroke="#a6d0ff" stroke-opacity="0.75" stroke-width="1"/>
<path d="M708,156 Q718,182 708,208 Q698,182 708,156 Z" fill="none" stroke="#b5dbff" stroke-opacity="0.55" stroke-width="0.9"/>
<path d="M708.5,228 Q718.5,258 708.5,288 Q698.5,258 708.5,228 Z" fill="none" stroke="#b5dbff" stroke-opacity="0.55" stroke-width="0.9"/>
<path d="M707.5,315 Q719.5,345 707.5,375 Q695.5,345 707.5,315 Z" fill="none" stroke="#b5dbff" stroke-opacity="0.55" stroke-width="0.9"/>
<path d="M701,191 Q709,215 701,239 Q693,215 701,191 Z" fill="none" stroke="#b5dbff" stroke-opacity="0.55" stroke-width="0.9"/>
<path d="M701.5,279 Q709.5,305 701.5,331 Q693.5,305 701.5,279 Z" fill="none" stroke="#b5dbff" stroke-opacity="0.55" stroke-width="0.9"/>
</g>
<polygon points="815,174.8 854,165.5 854,389.6 815,371" fill="url(#foamP)"/>
<polygon points="815,174.8 854,165.5 854,389.6 815,371" fill="none" stroke="#6fd2a4" stroke-width="1.3" stroke-dasharray="2 1.5"/>
<circle cx="868.1" cy="209.1" r="14.8" fill="url(#oSph)"/><circle cx="889.7" cy="193.7" r="15.2" fill="url(#oSph)"/>
<circle cx="866.8" cy="271.1" r="6.2" fill="url(#hSph)"/><circle cx="875.2" cy="288.7" r="15.8" fill="url(#oSph)"/><circle cx="895" cy="294" r="6.2" fill="url(#hSph)"/>
<circle cx="1074" cy="144.7" r="15.5" fill="url(#oSph)"/><circle cx="1091" cy="151" r="16" fill="url(#oSph)"/>
<circle cx="1074" cy="336" r="15.5" fill="url(#oSph)"/><circle cx="1083" cy="342.6" r="6" fill="url(#hSph)"/>
<path d="M967,97.5 Q957.7,99 957.7,110 L957.7,456 Q957.7,466.7 967,469 L1061,499 Q1070.8,502 1070.8,491 L1070.8,70 Q1070.8,59 1061,61.5 Z" fill="url(#gaskR)" stroke="#e2e2e2" stroke-width="1"/>
<path d="M1069.6,70 L1069.6,492" stroke="#d0d0d0" stroke-width="1.3"/>
<polygon points="979.7,184 1036,174.5 1036,408.6 979.7,389.7" fill="#f6f6f4" stroke="#d6d6d6" stroke-width="0.9"/>
<ellipse cx="963.5" cy="125" rx="2" ry="8" fill="#bdbdbd"/><ellipse cx="962.6" cy="125" rx="2" ry="8" fill="#ededed"/>
<ellipse cx="1059" cy="90" rx="2.4" ry="9.5" fill="#bdbdbd"/><ellipse cx="1058.1" cy="90" rx="2.4" ry="9.5" fill="#ededed"/>
<ellipse cx="962" cy="425" rx="2" ry="8" fill="#bdbdbd"/><ellipse cx="961.1" cy="425" rx="2" ry="8" fill="#ededed"/>
<ellipse cx="1059" cy="474" rx="2.4" ry="9" fill="#bdbdbd"/><ellipse cx="1058.1" cy="474" rx="2.4" ry="9" fill="#ededed"/>
<circle cx="937" cy="218.5" r="6" fill="url(#hSph)"/><circle cx="945" cy="235.8" r="16" fill="url(#oSph)"/><circle cx="965.5" cy="240.5" r="6" fill="url(#hSph)"/>
<circle cx="945" cy="317.5" r="6" fill="url(#hSph)"/><circle cx="953" cy="334.7" r="16.5" fill="url(#oSph)"/><circle cx="973.4" cy="342.6" r="6" fill="url(#hSph)"/>
<circle cx="1012.7" cy="196.5" r="6" fill="url(#hSph)"/><circle cx="1020.5" cy="213.8" r="15.5" fill="url(#oSph)"/>
<polygon points="1284.4,42 1313,40 1313,508 1279.5,507.8" fill="url(#sideR)"/>
<polygon points="1113,94.4 1284.4,44 1279.5,507.8 1112.4,441.1" fill="url(#frontR)"/>
<ellipse cx="1267" cy="78.7" rx="5" ry="11" fill="#c3c3c1"/><ellipse cx="1267.3" cy="79.2" rx="3.5" ry="8.2" fill="#b7b7b5"/>
<ellipse cx="1124" cy="118" rx="3.2" ry="8.6" fill="#c3c3c1"/><ellipse cx="1124.3" cy="118.5" rx="2.2" ry="6.4" fill="#b7b7b5"/>
<ellipse cx="1121" cy="418" rx="3.5" ry="9.4" fill="#c3c3c1"/><ellipse cx="1121.3" cy="418.5" rx="2.4" ry="7.1" fill="#b7b7b5"/>
<ellipse cx="1262.5" cy="468" rx="5.2" ry="10.2" fill="#c3c3c1"/><ellipse cx="1262.8" cy="468.5" rx="3.6" ry="7.6" fill="#b7b7b5"/>
<clipPath id="chR"><polygon points="1159.8,207.5 1214.7,204.1 1214.7,356.9 1159.8,352"/></clipPath>
<polygon points="1159.8,207.5 1214.7,204.1 1214.7,356.9 1159.8,352" fill="url(#chanR)"/>
<g clip-path="url(#chR)">
<rect x="1165.5" y="220" width="80" height="12.4" rx="6.2" fill="#ededed"/>
<rect x="1130" y="246" width="77.9" height="13.0" rx="6.5" fill="#ededed"/>
<rect x="1165.5" y="272.6" width="80" height="11.3" rx="5.6" fill="#ededed"/>
<rect x="1130" y="299" width="77.9" height="14.3" rx="7.2" fill="#ededed"/>
<rect x="1165.5" y="323.5" width="80" height="14.7" rx="7.3" fill="#ededed"/>
</g>
<polygon points="1159.8,207.5 1214.7,204.1 1214.7,356.9 1159.8,352" fill="none" stroke="#c4c4c4" stroke-width="0.8"/>
<g filter="url(#blur6)" opacity="0.4"><circle cx="1243.6" cy="149" r="16" fill="url(#oSph)"/><circle cx="1229.5" cy="210.6" r="15" fill="url(#oSph)"/><circle cx="1262.5" cy="341" r="16" fill="url(#oSph)"/></g>
<g filter="url(#blur6)" opacity="0.4"><circle cx="1228" cy="192" r="5" fill="url(#hSph)"/><circle cx="1215" cy="218" r="5" fill="url(#hSph)"/><circle cx="1243" cy="322" r="5" fill="url(#hSph)"/><circle cx="1240" cy="350" r="5" fill="url(#hSph)"/></g>
<circle cx="1107" cy="196.5" r="6" fill="url(#hSph)"/><circle cx="1114.8" cy="213.8" r="15.7" fill="url(#oSph)"/><circle cx="1136.8" cy="218.5" r="6" fill="url(#hSph)"/>
<circle cx="1154" cy="325" r="6" fill="url(#hSph)"/><circle cx="1163.5" cy="344" r="16.5" fill="url(#oSph)"/><circle cx="1185.5" cy="349" r="6" fill="url(#hSph)"/>
</g>
<text x="627.4" y="105.3" font-size="32" font-weight="bold" stroke="#000" stroke-width="0.15">Membrane</text>
<text x="522" y="149.2" font-size="32" font-weight="bold" stroke="#000" stroke-width="0.15">HER</text>
<text x="785.6" y="149.2" font-size="32" font-weight="bold" stroke="#000" stroke-width="0.15">OER</text>
<text x="442.5" y="429.6" font-size="32" font-weight="bold" stroke="#000" stroke-width="0.15">RuMo@MoOx-JH</text>
<text x="764.6" y="432.4" font-size="32" font-weight="bold" stroke="#000" stroke-width="0.15">NiFe-LDH</text>
<text x="807.2" y="469.6" font-size="32" font-weight="bold" stroke="#000" stroke-width="0.15">IrO<tspan font-size="21" dy="7.5">2</tspan></text>
<text x="778.2" y="507.6" font-size="32" font-weight="bold" stroke="#000" stroke-width="0.15">Ni foam</text>
<text x="154" y="497" font-size="32" font-weight="bold" stroke="#000" stroke-width="0.15">Plate</text>
<text x="325.8" y="497" font-size="32" font-weight="bold" stroke="#000" stroke-width="0.15">Gasket</text>
<text x="954.6" y="512.5" font-size="32" font-weight="bold" stroke="#000" stroke-width="0.15">Gasket</text>
<text x="1185" y="512.5" font-size="32" font-weight="bold" stroke="#000" stroke-width="0.15">Plate</text>
<text x="16.5" y="25" font-size="47.5" font-weight="bold" stroke="#000" stroke-width="0.15">a</text>
<rect x="87.6" y="35.7" width="1232" height="488.6" fill="none" stroke="#000" stroke-width="2.2" stroke-dasharray="9.6 6.2"/>
<text x="17" y="571" font-size="47.5" font-weight="bold" stroke="#000" stroke-width="0.15">b</text>
<defs><clipPath id="clipb"><rect x="90.5" y="545.6" width="517.0" height="418.79999999999995"/></clipPath></defs>
<g clip-path="url(#clipb)">
<path d="M105.0,869.4 C104.6,872.0 103.2,879.6 102.6,885.0 C102.0,890.4 102.0,895.3 101.4,902.0 C100.8,908.7 99.7,914.7 99.0,925.0 C98.3,935.3 97.3,957.5 97.0,964.0" fill="none" stroke="#ea0a0f" stroke-width="3" stroke-linejoin="round"/>
<path d="M604.0,674.0 C592.9,676.3 560.0,683.3 537.5,688.0 C515.0,692.7 490.2,697.3 469.0,702.0 C447.8,706.7 427.8,711.3 410.0,716.0 C392.2,720.7 377.7,725.4 362.5,730.0 C347.3,734.6 332.8,739.3 318.7,743.9 C304.6,748.5 290.3,753.2 277.6,757.8 C264.9,762.4 253.2,767.1 242.4,771.7 C231.6,776.3 222.2,781.0 212.8,785.6 C203.4,790.2 194.6,794.8 185.9,799.4 C177.2,804.0 168.2,808.6 160.9,813.3 C153.6,818.0 147.7,823.1 142.0,827.8 C136.3,832.5 131.5,837.1 126.5,841.7 C121.5,846.3 115.6,850.9 112.0,855.5 C108.4,860.1 106.2,867.1 105.0,869.4" fill="none" stroke="#ea0a0f" stroke-width="3" stroke-linejoin="round"/>
<rect x="597.4" y="667.4" width="13.2" height="13.2" fill="#ea0a0f"/>
<rect x="530.9" y="681.4" width="13.2" height="13.2" fill="#ea0a0f"/>
<rect x="462.4" y="695.4" width="13.2" height="13.2" fill="#ea0a0f"/>
<rect x="403.4" y="709.4" width="13.2" height="13.2" fill="#ea0a0f"/>
<rect x="355.9" y="723.4" width="13.2" height="13.2" fill="#ea0a0f"/>
<rect x="312.1" y="737.3" width="13.2" height="13.2" fill="#ea0a0f"/>
<rect x="271.0" y="751.2" width="13.2" height="13.2" fill="#ea0a0f"/>
<rect x="235.8" y="765.1" width="13.2" height="13.2" fill="#ea0a0f"/>
<rect x="206.2" y="779.0" width="13.2" height="13.2" fill="#ea0a0f"/>
<rect x="179.3" y="792.8" width="13.2" height="13.2" fill="#ea0a0f"/>
<rect x="154.3" y="806.7" width="13.2" height="13.2" fill="#ea0a0f"/>
<rect x="135.4" y="821.2" width="13.2" height="13.2" fill="#ea0a0f"/>
<rect x="119.9" y="835.1" width="13.2" height="13.2" fill="#ea0a0f"/>
<rect x="105.4" y="848.9" width="13.2" height="13.2" fill="#ea0a0f"/>
<rect x="98.4" y="862.8" width="13.2" height="13.2" fill="#ea0a0f"/>
<path d="M606.0,564.0 C598.9,565.7 579.1,570.1 563.5,574.0 C547.9,577.9 527.9,582.9 512.5,587.5 C497.1,592.1 484.1,596.8 471.0,601.5 C457.9,606.2 445.6,611.2 434.0,616.0 C422.4,620.8 413.4,625.3 401.5,630.0 C389.6,634.7 375.6,639.4 362.5,644.0 C349.4,648.6 334.7,652.9 323.0,657.4 C311.3,661.9 302.0,666.7 292.4,671.3 C282.8,675.9 274.3,680.6 265.6,685.2 C256.9,689.8 248.6,694.5 240.2,699.1 C231.8,703.7 222.8,708.4 215.2,713.0 C207.6,717.6 201.5,722.3 194.8,726.9 C188.1,731.5 181.0,736.0 174.8,740.7 C168.6,745.4 163.1,750.3 157.8,755.0 C152.6,759.7 147.4,764.3 143.3,768.9 C139.2,773.5 136.0,778.2 133.1,782.8 C130.2,787.4 128.2,792.1 125.7,796.7 C123.2,801.3 120.5,806.0 118.3,810.6 C116.1,815.2 114.5,819.8 112.5,824.4 C110.5,829.0 108.1,833.4 106.0,838.0 C103.9,842.6 101.5,847.3 100.0,852.0 C98.5,856.7 97.7,861.3 97.0,866.0 C96.3,870.7 96.3,875.3 96.0,880.0 C95.7,884.7 95.3,889.3 95.0,894.0 C94.7,898.7 94.2,903.3 94.0,908.0 C93.8,912.7 93.7,917.3 93.5,922.0 C93.3,926.7 93.2,931.3 93.0,936.0 C92.8,940.7 92.7,945.3 92.5,950.0 C92.3,954.7 92.1,961.7 92.0,964.0" fill="none" stroke="#3ec46f" stroke-width="3" stroke-linejoin="round"/>
<rect x="599.4" y="557.4" width="13.2" height="13.2" fill="#3ec46f"/>
<rect x="556.9" y="567.4" width="13.2" height="13.2" fill="#3ec46f"/>
<rect x="505.9" y="580.9" width="13.2" height="13.2" fill="#3ec46f"/>
<rect x="464.4" y="594.9" width="13.2" height="13.2" fill="#3ec46f"/>
<rect x="427.4" y="609.4" width="13.2" height="13.2" fill="#3ec46f"/>
<rect x="394.9" y="623.4" width="13.2" height="13.2" fill="#3ec46f"/>
<rect x="355.9" y="637.4" width="13.2" height="13.2" fill="#3ec46f"/>
<rect x="316.4" y="650.8" width="13.2" height="13.2" fill="#3ec46f"/>
<rect x="285.8" y="664.7" width="13.2" height="13.2" fill="#3ec46f"/>
<rect x="259.0" y="678.6" width="13.2" height="13.2" fill="#3ec46f"/>
<rect x="233.6" y="692.5" width="13.2" height="13.2" fill="#3ec46f"/>
<rect x="208.6" y="706.4" width="13.2" height="13.2" fill="#3ec46f"/>
<rect x="188.2" y="720.3" width="13.2" height="13.2" fill="#3ec46f"/>
<rect x="168.2" y="734.1" width="13.2" height="13.2" fill="#3ec46f"/>
<rect x="151.2" y="748.4" width="13.2" height="13.2" fill="#3ec46f"/>
<rect x="136.7" y="762.3" width="13.2" height="13.2" fill="#3ec46f"/>
<rect x="126.5" y="776.2" width="13.2" height="13.2" fill="#3ec46f"/>
<rect x="119.1" y="790.1" width="13.2" height="13.2" fill="#3ec46f"/>
<rect x="111.7" y="804.0" width="13.2" height="13.2" fill="#3ec46f"/>
<rect x="105.9" y="817.8" width="13.2" height="13.2" fill="#3ec46f"/>
<rect x="99.4" y="831.4" width="13.2" height="13.2" fill="#3ec46f"/>
<rect x="93.4" y="845.4" width="13.2" height="13.2" fill="#3ec46f"/>
<rect x="90.4" y="859.4" width="13.2" height="13.2" fill="#3ec46f"/>
<rect x="89.4" y="873.4" width="13.2" height="13.2" fill="#3ec46f"/>
<rect x="88.4" y="887.4" width="13.2" height="13.2" fill="#3ec46f"/>
<rect x="87.4" y="901.4" width="13.2" height="13.2" fill="#3ec46f"/>
<rect x="86.9" y="915.4" width="13.2" height="13.2" fill="#3ec46f"/>
<rect x="86.4" y="929.4" width="13.2" height="13.2" fill="#3ec46f"/>
<rect x="85.9" y="943.4" width="13.2" height="13.2" fill="#3ec46f"/>
<rect x="85.4" y="957.4" width="13.2" height="13.2" fill="#3ec46f"/>
<path d="M313.5,601.7 C309.7,603.7 298.8,609.5 290.6,613.9 C282.5,618.2 273.0,623.2 264.6,627.8 C256.2,632.4 247.7,637.1 240.2,641.7 C232.7,646.3 225.9,651.0 219.6,655.6 C213.3,660.2 207.3,664.7 202.2,669.4 C197.0,674.1 193.3,679.0 188.7,683.7 C184.1,688.4 179.2,693.0 174.8,697.6 C170.4,702.2 166.2,706.9 162.4,711.5 C158.6,716.1 155.4,720.8 152.2,725.4 C149.0,730.0 146.3,734.7 143.3,739.3 C140.3,743.9 136.9,748.5 134.1,753.1 C131.3,757.7 129.0,762.4 126.7,767.0 C124.4,771.6 122.4,776.3 120.2,780.9 C118.0,785.5 115.7,790.1 113.7,794.8 C111.8,799.5 110.2,804.2 108.5,809.0 C106.8,813.8 105.4,818.7 103.5,823.5 C101.6,828.3 98.8,833.2 97.0,838.0 C95.2,842.8 93.8,847.3 93.0,852.0 C92.2,856.7 92.2,861.3 92.0,866.0 C91.8,870.7 91.6,875.3 91.5,880.0 C91.4,884.7 91.4,889.3 91.3,894.0 C91.2,898.7 91.0,903.3 91.0,908.0 C91.0,912.7 91.0,917.3 91.0,922.0 C91.0,926.7 91.0,931.3 91.0,936.0 C91.0,940.7 91.0,945.3 91.0,950.0 C91.0,954.7 91.0,961.7 91.0,964.0" fill="none" stroke="#3c568f" stroke-width="3" stroke-linejoin="round"/>
<rect x="306.9" y="595.1" width="13.2" height="13.2" fill="#3c568f"/>
<rect x="284.0" y="607.3" width="13.2" height="13.2" fill="#3c568f"/>
<rect x="258.0" y="621.2" width="13.2" height="13.2" fill="#3c568f"/>
<rect x="233.6" y="635.1" width="13.2" height="13.2" fill="#3c568f"/>
<rect x="213.0" y="649.0" width="13.2" height="13.2" fill="#3c568f"/>
<rect x="195.6" y="662.8" width="13.2" height="13.2" fill="#3c568f"/>
<rect x="182.1" y="677.1" width="13.2" height="13.2" fill="#3c568f"/>
<rect x="168.2" y="691.0" width="13.2" height="13.2" fill="#3c568f"/>
<rect x="155.8" y="704.9" width="13.2" height="13.2" fill="#3c568f"/>
<rect x="145.6" y="718.8" width="13.2" height="13.2" fill="#3c568f"/>
<rect x="136.7" y="732.7" width="13.2" height="13.2" fill="#3c568f"/>
<rect x="127.5" y="746.5" width="13.2" height="13.2" fill="#3c568f"/>
<rect x="120.1" y="760.4" width="13.2" height="13.2" fill="#3c568f"/>
<rect x="113.6" y="774.3" width="13.2" height="13.2" fill="#3c568f"/>
<rect x="107.1" y="788.2" width="13.2" height="13.2" fill="#3c568f"/>
<rect x="101.9" y="802.4" width="13.2" height="13.2" fill="#3c568f"/>
<rect x="96.9" y="816.9" width="13.2" height="13.2" fill="#3c568f"/>
<rect x="90.4" y="831.4" width="13.2" height="13.2" fill="#3c568f"/>
<rect x="86.4" y="845.4" width="13.2" height="13.2" fill="#3c568f"/>
<rect x="85.4" y="859.4" width="13.2" height="13.2" fill="#3c568f"/>
<rect x="84.9" y="873.4" width="13.2" height="13.2" fill="#3c568f"/>
<rect x="84.7" y="887.4" width="13.2" height="13.2" fill="#3c568f"/>
<rect x="84.4" y="901.4" width="13.2" height="13.2" fill="#3c568f"/>
<rect x="84.4" y="915.4" width="13.2" height="13.2" fill="#3c568f"/>
<rect x="84.4" y="929.4" width="13.2" height="13.2" fill="#3c568f"/>
<rect x="84.4" y="943.4" width="13.2" height="13.2" fill="#3c568f"/>
<rect x="84.4" y="957.4" width="13.2" height="13.2" fill="#3c568f"/>
<path d="M605.0,596.5 C603.8,597.3 605.7,598.2 597.5,601.5 C589.3,604.8 569.3,611.2 556.0,616.0 C542.7,620.8 530.8,625.3 517.5,630.0 C504.2,634.7 489.8,639.3 476.5,644.0 C463.2,648.7 449.7,653.4 437.5,658.0 C425.3,662.6 414.9,666.9 403.5,671.5 C392.1,676.1 380.7,680.9 369.0,685.5 C357.3,690.1 344.0,694.8 333.1,699.4 C322.2,704.0 313.4,708.7 303.5,713.3 C293.6,717.9 283.1,722.6 273.5,727.2 C263.9,731.8 254.8,736.5 246.1,741.1 C237.4,745.7 229.4,750.4 221.1,755.0 C212.8,759.6 203.8,764.3 196.1,768.9 C188.4,773.5 181.7,778.2 174.8,782.8 C168.0,787.4 161.3,792.1 155.0,796.7 C148.7,801.3 142.8,805.9 137.2,810.6 C131.6,815.3 126.2,820.0 121.4,824.7 C116.6,829.4 112.0,834.3 108.3,839.0 C104.6,843.7 101.7,848.3 99.2,852.9 C96.8,857.5 94.6,862.2 93.6,866.8 C92.6,871.4 93.5,876.1 93.4,880.7 C93.4,885.3 93.3,890.0 93.3,894.6 C93.3,899.2 93.2,903.9 93.2,908.5 C93.2,913.1 93.2,917.8 93.2,922.4 C93.2,927.0 93.2,931.7 93.2,936.3 C93.2,940.9 93.2,945.6 93.2,950.2 C93.2,954.8 93.2,961.7 93.2,964.0" fill="none" stroke="#fdc014" stroke-width="3" stroke-linejoin="round"/>
<rect x="598.4" y="589.9" width="13.2" height="13.2" fill="#fdc014"/>
<rect x="590.9" y="594.9" width="13.2" height="13.2" fill="#fdc014"/>
<rect x="549.4" y="609.4" width="13.2" height="13.2" fill="#fdc014"/>
<rect x="510.9" y="623.4" width="13.2" height="13.2" fill="#fdc014"/>
<rect x="469.9" y="637.4" width="13.2" height="13.2" fill="#fdc014"/>
<rect x="430.9" y="651.4" width="13.2" height="13.2" fill="#fdc014"/>
<rect x="396.9" y="664.9" width="13.2" height="13.2" fill="#fdc014"/>
<rect x="362.4" y="678.9" width="13.2" height="13.2" fill="#fdc014"/>
<rect x="326.5" y="692.8" width="13.2" height="13.2" fill="#fdc014"/>
<rect x="296.9" y="706.7" width="13.2" height="13.2" fill="#fdc014"/>
<rect x="266.9" y="720.6" width="13.2" height="13.2" fill="#fdc014"/>
<rect x="239.5" y="734.5" width="13.2" height="13.2" fill="#fdc014"/>
<rect x="214.5" y="748.4" width="13.2" height="13.2" fill="#fdc014"/>
<rect x="189.5" y="762.3" width="13.2" height="13.2" fill="#fdc014"/>
<rect x="168.2" y="776.2" width="13.2" height="13.2" fill="#fdc014"/>
<rect x="148.4" y="790.1" width="13.2" height="13.2" fill="#fdc014"/>
<rect x="130.6" y="804.0" width="13.2" height="13.2" fill="#fdc014"/>
<rect x="114.8" y="818.1" width="13.2" height="13.2" fill="#fdc014"/>
<rect x="101.7" y="832.4" width="13.2" height="13.2" fill="#fdc014"/>
<rect x="92.6" y="846.3" width="13.2" height="13.2" fill="#fdc014"/>
<rect x="87.0" y="860.2" width="13.2" height="13.2" fill="#fdc014"/>
<rect x="86.8" y="874.1" width="13.2" height="13.2" fill="#fdc014"/>
<rect x="86.7" y="888.0" width="13.2" height="13.2" fill="#fdc014"/>
<rect x="86.6" y="901.9" width="13.2" height="13.2" fill="#fdc014"/>
<rect x="86.6" y="915.8" width="13.2" height="13.2" fill="#fdc014"/>
<rect x="86.6" y="929.7" width="13.2" height="13.2" fill="#fdc014"/>
<rect x="86.6" y="943.6" width="13.2" height="13.2" fill="#fdc014"/>
<rect x="86.6" y="957.4" width="13.2" height="13.2" fill="#fdc014"/>
</g>
<rect x="90.5" y="545.6" width="517.0" height="418.79999999999995" fill="none" stroke="#000" stroke-width="2"/>
<line x1="90.5" y1="964.4" x2="90.5" y2="972.9" stroke="#000" stroke-width="2"/>
<text transform="translate(90.5,1000) scale(1,1.05)" font-size="27.5" text-anchor="middle" fill="#000"  stroke="#000" stroke-width="0.3">0</text>
<line x1="219.8" y1="964.4" x2="219.8" y2="972.9" stroke="#000" stroke-width="2"/>
<text transform="translate(219.8,1000) scale(1,1.05)" font-size="27.5" text-anchor="middle" fill="#000"  stroke="#000" stroke-width="0.3">250</text>
<line x1="349.0" y1="964.4" x2="349.0" y2="972.9" stroke="#000" stroke-width="2"/>
<text transform="translate(349.0,1000) scale(1,1.05)" font-size="27.5" text-anchor="middle" fill="#000"  stroke="#000" stroke-width="0.3">500</text>
<line x1="478.2" y1="964.4" x2="478.2" y2="972.9" stroke="#000" stroke-width="2"/>
<text transform="translate(478.2,1000) scale(1,1.05)" font-size="27.5" text-anchor="middle" fill="#000"  stroke="#000" stroke-width="0.3">750</text>
<line x1="607.5" y1="964.4" x2="607.5" y2="972.9" stroke="#000" stroke-width="2"/>
<text transform="translate(607.5,1000) scale(1,1.05)" font-size="27.5" text-anchor="middle" fill="#000"  stroke="#000" stroke-width="0.3">1000</text>
<line x1="155.1" y1="964.4" x2="155.1" y2="968.9" stroke="#000" stroke-width="2"/>
<line x1="284.4" y1="964.4" x2="284.4" y2="968.9" stroke="#000" stroke-width="2"/>
<line x1="413.6" y1="964.4" x2="413.6" y2="968.9" stroke="#000" stroke-width="2"/>
<line x1="542.9" y1="964.4" x2="542.9" y2="968.9" stroke="#000" stroke-width="2"/>
<line x1="82.0" y1="964.4" x2="90.5" y2="964.4" stroke="#000" stroke-width="2"/>
<text transform="translate(77.9,973.5) scale(1,1.05)" font-size="27.5" text-anchor="end" fill="#000"  stroke="#000" stroke-width="0.3">1.2</text>
<line x1="82.0" y1="852.8" x2="90.5" y2="852.8" stroke="#000" stroke-width="2"/>
<text transform="translate(77.9,861.9) scale(1,1.05)" font-size="27.5" text-anchor="end" fill="#000"  stroke="#000" stroke-width="0.3">1.6</text>
<line x1="82.0" y1="741.2" x2="90.5" y2="741.2" stroke="#000" stroke-width="2"/>
<text transform="translate(77.9,750.3) scale(1,1.05)" font-size="27.5" text-anchor="end" fill="#000"  stroke="#000" stroke-width="0.3">2.0</text>
<line x1="82.0" y1="629.6" x2="90.5" y2="629.6" stroke="#000" stroke-width="2"/>
<text transform="translate(77.9,638.7) scale(1,1.05)" font-size="27.5" text-anchor="end" fill="#000"  stroke="#000" stroke-width="0.3">2.4</text>
<line x1="86.0" y1="908.6" x2="90.5" y2="908.6" stroke="#000" stroke-width="2"/>
<line x1="86.0" y1="797.0" x2="90.5" y2="797.0" stroke="#000" stroke-width="2"/>
<line x1="86.0" y1="685.4" x2="90.5" y2="685.4" stroke="#000" stroke-width="2"/>
<line x1="86.0" y1="573.8" x2="90.5" y2="573.8" stroke="#000" stroke-width="2"/>
<text x="144.4" y="1054" font-size="35.8" stroke="#000" stroke-width="0.3">Current density (mA·cm<tspan font-size="23" dy="-12">-2</tspan><tspan dy="12">)</tspan></text>
<text transform="translate(26.5,755) rotate(-90)" font-size="35.8" text-anchor="middle" stroke="#000" stroke-width="0.3"><tspan font-style="italic">E</tspan>-<tspan font-style="italic">iR</tspan> (V)</text>
<line x1="236.5" y1="808.1" x2="282" y2="808.1" stroke="#ea0a0f" stroke-width="3"/>
<rect x="252.2" y="801.4" width="13.5" height="13.5" fill="#ea0a0f"/>
<text x="290" y="816" font-size="22.1" stroke="#000" stroke-width="0.3">RuMo/MoO<tspan font-size="14.5" dy="5">x</tspan><tspan dy="-5">-JH || Ni foam 60 °C</tspan></text>
<line x1="236.5" y1="839.7" x2="282" y2="839.7" stroke="#fdc014" stroke-width="3"/>
<rect x="252.2" y="833.0" width="13.5" height="13.5" fill="#fdc014"/>
<text x="290" y="847.5" font-size="22.1" stroke="#000" stroke-width="0.3">Pt/C || Ni foam 60 °C</text>
<line x1="236.5" y1="866.4" x2="282" y2="866.4" stroke="#3ec46f" stroke-width="3"/>
<rect x="252.2" y="859.6" width="13.5" height="13.5" fill="#3ec46f"/>
<text x="290" y="874.3" font-size="22.1" stroke="#000" stroke-width="0.3">RuMo/MoO<tspan font-size="14.5" dy="5">x</tspan><tspan dy="-5">-JH || Ni foam 20 °C</tspan></text>
<line x1="236.5" y1="897.6" x2="282" y2="897.6" stroke="#3c568f" stroke-width="3"/>
<rect x="252.2" y="890.9" width="13.5" height="13.5" fill="#3c568f"/>
<text x="290" y="905.2" font-size="22.1" stroke="#000" stroke-width="0.3">Pt/C || Ni foam 20 °C</text>
<text x="290" y="956" font-size="22.1" stroke="#000" stroke-width="0.3">Pressure = 1 bar</text>
<text x="343" y="576" font-size="21.6" fill="#3ec46f" stroke="#3ec46f" stroke-width="0.3">2.63 V @ 1A·cm<tspan font-size="15" dy="-7">-2</tspan></text>
<text x="433" y="739" font-size="21.6" fill="#ea0a0f" stroke="#ea0a0f" stroke-width="0.3">2.24 V @ 1A·cm<tspan font-size="15" dy="-7">-2</tspan></text>
<text x="715.5" y="571" font-size="47.5" font-weight="bold" stroke="#000" stroke-width="0.15">c</text>
<defs><clipPath id="clipc"><rect x="803.0" y="552.0" width="518.0" height="419.0"/></clipPath></defs>
<g clip-path="url(#clipc)">
<polyline points="1321.0,763.6 1293.6,765.9 1237.6,771.6 1176.2,777.2 1126.4,783.1 1082.7,789.2 1042.1,795.5 1012.4,800.3 979.2,806.1 950.6,811.7 927.6,817.5 905.5,823.4 887.0,828.8 871.5,834.8 859.5,840.2 850.0,846.1 842.8,852.1 836.8,858.7 832.0,864.7 829.0,871.2 826.8,878.4 824.5,885.6 822.5,895.0 820.8,905.0 819.3,915.0 818.0,930.0 816.8,945.0 815.8,958.0 815.3,971.0" fill="none" stroke="#e64c37" stroke-width="3" stroke-linejoin="round" stroke-linecap="round"/>
<rect x="1287.1" y="759.4" width="13" height="13" fill="#e64c37"/>
<rect x="1231.1" y="765.1" width="13" height="13" fill="#e64c37"/>
<rect x="1169.7" y="770.7" width="13" height="13" fill="#e64c37"/>
<rect x="1119.9" y="776.6" width="13" height="13" fill="#e64c37"/>
<rect x="1076.2" y="782.7" width="13" height="13" fill="#e64c37"/>
<rect x="1035.6" y="789.0" width="13" height="13" fill="#e64c37"/>
<rect x="1005.9" y="793.8" width="13" height="13" fill="#e64c37"/>
<rect x="972.7" y="799.6" width="13" height="13" fill="#e64c37"/>
<rect x="944.1" y="805.2" width="13" height="13" fill="#e64c37"/>
<rect x="921.1" y="811.0" width="13" height="13" fill="#e64c37"/>
<rect x="899.0" y="816.9" width="13" height="13" fill="#e64c37"/>
<rect x="880.5" y="822.3" width="13" height="13" fill="#e64c37"/>
<rect x="865.0" y="828.3" width="13" height="13" fill="#e64c37"/>
<rect x="853.0" y="833.7" width="13" height="13" fill="#e64c37"/>
<rect x="843.5" y="839.6" width="13" height="13" fill="#e64c37"/>
<rect x="836.3" y="845.6" width="13" height="13" fill="#e64c37"/>
<rect x="830.3" y="852.2" width="13" height="13" fill="#e64c37"/>
<rect x="825.5" y="858.2" width="13" height="13" fill="#e64c37"/>
<rect x="822.5" y="864.7" width="13" height="13" fill="#e64c37"/>
<rect x="820.4" y="871.5" width="13" height="13" fill="#e64c37"/>
<rect x="818.5" y="877.5" width="13" height="13" fill="#e64c37"/>
<rect x="817.1" y="883.5" width="13" height="13" fill="#e64c37"/>
<rect x="815.8" y="889.5" width="13" height="13" fill="#e64c37"/>
<rect x="814.8" y="895.5" width="13" height="13" fill="#e64c37"/>
<rect x="813.8" y="901.5" width="13" height="13" fill="#e64c37"/>
<rect x="812.9" y="907.5" width="13" height="13" fill="#e64c37"/>
<rect x="812.4" y="913.5" width="13" height="13" fill="#e64c37"/>
<rect x="811.8" y="919.5" width="13" height="13" fill="#e64c37"/>
<rect x="811.3" y="925.5" width="13" height="13" fill="#e64c37"/>
<rect x="810.9" y="931.5" width="13" height="13" fill="#e64c37"/>
<rect x="810.4" y="937.5" width="13" height="13" fill="#e64c37"/>
<rect x="809.9" y="943.5" width="13" height="13" fill="#e64c37"/>
<rect x="809.5" y="949.5" width="13" height="13" fill="#e64c37"/>
<rect x="809.1" y="955.5" width="13" height="13" fill="#e64c37"/>
<rect x="808.9" y="961.5" width="13" height="13" fill="#e64c37"/>
<rect x="1312.0" y="757.3" width="13" height="13" fill="#e64c37"/>
<polyline points="1321.0,723.6 1292.7,725.3 1271.3,731.6 1206.4,736.9 1164.7,742.6 1134.4,748.4 1103.3,754.1 1060.2,759.8 1032.1,765.0 1003.5,770.7 979.2,776.5 954.3,782.3 931.5,787.9 914.3,793.5 899.3,799.3 885.6,805.1 873.8,810.7 862.0,816.5 853.0,822.3 846.0,828.2 839.8,834.2 833.8,839.6 828.4,846.1 823.7,852.1 820.5,858.7 818.3,866.0 816.8,875.0 815.6,885.0 814.5,895.0 813.6,905.0 812.8,915.0 812.0,930.0 811.2,945.0 810.7,958.0 810.4,971.0" fill="none" stroke="#efc002" stroke-width="3" stroke-linejoin="round" stroke-linecap="round"/>
<rect x="1286.2" y="718.8" width="13" height="13" fill="#efc002"/>
<rect x="1264.8" y="725.1" width="13" height="13" fill="#efc002"/>
<rect x="1199.9" y="730.4" width="13" height="13" fill="#efc002"/>
<rect x="1158.2" y="736.1" width="13" height="13" fill="#efc002"/>
<rect x="1127.9" y="741.9" width="13" height="13" fill="#efc002"/>
<rect x="1096.8" y="747.6" width="13" height="13" fill="#efc002"/>
<rect x="1053.7" y="753.3" width="13" height="13" fill="#efc002"/>
<rect x="1025.6" y="758.5" width="13" height="13" fill="#efc002"/>
<rect x="997.0" y="764.2" width="13" height="13" fill="#efc002"/>
<rect x="972.7" y="770.0" width="13" height="13" fill="#efc002"/>
<rect x="947.8" y="775.8" width="13" height="13" fill="#efc002"/>
<rect x="925.0" y="781.4" width="13" height="13" fill="#efc002"/>
<rect x="907.8" y="787.0" width="13" height="13" fill="#efc002"/>
<rect x="892.8" y="792.8" width="13" height="13" fill="#efc002"/>
<rect x="879.1" y="798.6" width="13" height="13" fill="#efc002"/>
<rect x="867.3" y="804.2" width="13" height="13" fill="#efc002"/>
<rect x="855.5" y="810.0" width="13" height="13" fill="#efc002"/>
<rect x="846.5" y="815.8" width="13" height="13" fill="#efc002"/>
<rect x="839.5" y="821.7" width="13" height="13" fill="#efc002"/>
<rect x="833.3" y="827.7" width="13" height="13" fill="#efc002"/>
<rect x="827.3" y="833.1" width="13" height="13" fill="#efc002"/>
<rect x="821.9" y="839.6" width="13" height="13" fill="#efc002"/>
<rect x="817.2" y="845.6" width="13" height="13" fill="#efc002"/>
<rect x="814.3" y="851.5" width="13" height="13" fill="#efc002"/>
<rect x="812.4" y="857.5" width="13" height="13" fill="#efc002"/>
<rect x="811.1" y="863.5" width="13" height="13" fill="#efc002"/>
<rect x="810.2" y="869.5" width="13" height="13" fill="#efc002"/>
<rect x="809.5" y="875.5" width="13" height="13" fill="#efc002"/>
<rect x="808.8" y="881.5" width="13" height="13" fill="#efc002"/>
<rect x="808.1" y="887.5" width="13" height="13" fill="#efc002"/>
<rect x="807.5" y="893.5" width="13" height="13" fill="#efc002"/>
<rect x="807.0" y="899.5" width="13" height="13" fill="#efc002"/>
<rect x="806.5" y="905.5" width="13" height="13" fill="#efc002"/>
<rect x="806.1" y="911.5" width="13" height="13" fill="#efc002"/>
<rect x="805.8" y="917.5" width="13" height="13" fill="#efc002"/>
<rect x="805.5" y="923.5" width="13" height="13" fill="#efc002"/>
<rect x="805.2" y="929.5" width="13" height="13" fill="#efc002"/>
<rect x="804.9" y="935.5" width="13" height="13" fill="#efc002"/>
<rect x="804.6" y="941.5" width="13" height="13" fill="#efc002"/>
<rect x="804.4" y="947.5" width="13" height="13" fill="#efc002"/>
<rect x="804.2" y="953.5" width="13" height="13" fill="#efc002"/>
<rect x="804.0" y="959.5" width="13" height="13" fill="#efc002"/>
<path d="M1321.0,573.8 C1318.2,574.5 1314.7,575.3 1304.2,578.3 C1293.7,581.3 1273.8,587.5 1258.0,592.0 C1242.2,596.5 1225.3,600.8 1209.5,605.3 C1193.7,609.8 1177.2,614.3 1162.9,618.7 C1148.6,623.1 1136.0,627.2 1123.4,631.6 C1110.9,636.0 1098.5,640.9 1087.6,645.4 C1076.7,649.9 1068.0,654.1 1058.0,658.6 C1048.0,663.1 1037.2,667.7 1027.3,672.1 C1017.3,676.5 1007.5,680.8 998.3,685.2 C989.1,689.6 980.6,694.3 972.3,698.7 C964.0,703.1 955.8,707.3 948.5,711.7 C941.2,716.1 935.0,720.7 928.4,725.2 C921.8,729.7 915.0,734.1 908.7,738.5 C902.4,742.9 896.3,747.2 890.4,751.6 C884.5,756.0 878.4,760.5 873.4,765.0 C868.4,769.5 864.5,774.1 860.3,778.5 C856.0,782.9 851.7,787.2 847.9,791.6 C844.1,796.0 841.0,800.4 837.5,804.9 C834.0,809.4 829.9,814.2 826.7,818.7 C823.5,823.2 820.6,827.4 818.3,831.8 C816.0,836.2 814.2,840.6 812.9,845.0 C811.6,849.4 811.0,853.6 810.3,858.1 C809.6,862.6 809.2,867.2 808.7,871.8 C808.2,876.4 807.7,881.1 807.3,885.6 C806.9,890.1 806.6,894.3 806.3,898.7 C806.0,903.1 805.8,907.4 805.6,911.8 C805.4,916.2 805.2,920.6 805.0,925.0 C804.8,929.4 804.7,933.7 804.6,938.1 C804.5,942.5 804.3,946.9 804.2,951.3 C804.1,955.7 804.0,961.1 803.9,964.4 C803.8,967.7 803.8,969.9 803.8,971.0" fill="none" stroke="#3ec46f" stroke-width="3" stroke-linejoin="round"/>
<rect x="1297.7" y="571.8" width="13" height="13" fill="#3ec46f"/>
<rect x="1251.5" y="585.5" width="13" height="13" fill="#3ec46f"/>
<rect x="1203.0" y="598.8" width="13" height="13" fill="#3ec46f"/>
<rect x="1156.4" y="612.2" width="13" height="13" fill="#3ec46f"/>
<rect x="1116.9" y="625.1" width="13" height="13" fill="#3ec46f"/>
<rect x="1081.1" y="638.9" width="13" height="13" fill="#3ec46f"/>
<rect x="1051.5" y="652.1" width="13" height="13" fill="#3ec46f"/>
<rect x="1020.8" y="665.6" width="13" height="13" fill="#3ec46f"/>
<rect x="991.8" y="678.7" width="13" height="13" fill="#3ec46f"/>
<rect x="965.8" y="692.2" width="13" height="13" fill="#3ec46f"/>
<rect x="942.0" y="705.2" width="13" height="13" fill="#3ec46f"/>
<rect x="921.9" y="718.7" width="13" height="13" fill="#3ec46f"/>
<rect x="902.2" y="732.0" width="13" height="13" fill="#3ec46f"/>
<rect x="883.9" y="745.1" width="13" height="13" fill="#3ec46f"/>
<rect x="866.9" y="758.5" width="13" height="13" fill="#3ec46f"/>
<rect x="853.8" y="772.0" width="13" height="13" fill="#3ec46f"/>
<rect x="841.4" y="785.1" width="13" height="13" fill="#3ec46f"/>
<rect x="831.0" y="798.4" width="13" height="13" fill="#3ec46f"/>
<rect x="820.2" y="812.2" width="13" height="13" fill="#3ec46f"/>
<rect x="811.8" y="825.3" width="13" height="13" fill="#3ec46f"/>
<rect x="806.4" y="838.5" width="13" height="13" fill="#3ec46f"/>
<rect x="803.8" y="851.6" width="13" height="13" fill="#3ec46f"/>
<rect x="802.2" y="865.3" width="13" height="13" fill="#3ec46f"/>
<rect x="800.8" y="879.1" width="13" height="13" fill="#3ec46f"/>
<rect x="799.8" y="892.2" width="13" height="13" fill="#3ec46f"/>
<rect x="799.1" y="905.3" width="13" height="13" fill="#3ec46f"/>
<rect x="798.5" y="918.5" width="13" height="13" fill="#3ec46f"/>
<rect x="798.1" y="931.6" width="13" height="13" fill="#3ec46f"/>
<rect x="797.7" y="944.8" width="13" height="13" fill="#3ec46f"/>
<rect x="797.4" y="957.9" width="13" height="13" fill="#3ec46f"/>
<rect x="1312.0" y="567.7" width="13" height="13" fill="#3ec46f"/>
</g>
<rect x="803.0" y="552.0" width="518.0" height="419.0" fill="none" stroke="#000" stroke-width="2"/>
<line x1="803.0" y1="971.0" x2="803.0" y2="979.5" stroke="#000" stroke-width="2"/>
<text transform="translate(803.0,1006.5) scale(1,1.05)" font-size="27.5" text-anchor="middle" fill="#000"  stroke="#000" stroke-width="0.3">0</text>
<line x1="906.6" y1="971.0" x2="906.6" y2="979.5" stroke="#000" stroke-width="2"/>
<text transform="translate(906.6,1006.5) scale(1,1.05)" font-size="27.5" text-anchor="middle" fill="#000"  stroke="#000" stroke-width="0.3">200</text>
<line x1="1010.2" y1="971.0" x2="1010.2" y2="979.5" stroke="#000" stroke-width="2"/>
<text transform="translate(1010.2,1006.5) scale(1,1.05)" font-size="27.5" text-anchor="middle" fill="#000"  stroke="#000" stroke-width="0.3">400</text>
<line x1="1113.8" y1="971.0" x2="1113.8" y2="979.5" stroke="#000" stroke-width="2"/>
<text transform="translate(1113.8,1006.5) scale(1,1.05)" font-size="27.5" text-anchor="middle" fill="#000"  stroke="#000" stroke-width="0.3">600</text>
<line x1="1217.4" y1="971.0" x2="1217.4" y2="979.5" stroke="#000" stroke-width="2"/>
<text transform="translate(1217.4,1006.5) scale(1,1.05)" font-size="27.5" text-anchor="middle" fill="#000"  stroke="#000" stroke-width="0.3">800</text>
<line x1="1321.0" y1="971.0" x2="1321.0" y2="979.5" stroke="#000" stroke-width="2"/>
<text transform="translate(1321.0,1006.5) scale(1,1.05)" font-size="27.5" text-anchor="middle" fill="#000"  stroke="#000" stroke-width="0.3">1000</text>
<line x1="854.8" y1="971.0" x2="854.8" y2="975.5" stroke="#000" stroke-width="2"/>
<line x1="958.4" y1="971.0" x2="958.4" y2="975.5" stroke="#000" stroke-width="2"/>
<line x1="1062.0" y1="971.0" x2="1062.0" y2="975.5" stroke="#000" stroke-width="2"/>
<line x1="1165.6" y1="971.0" x2="1165.6" y2="975.5" stroke="#000" stroke-width="2"/>
<line x1="1269.2" y1="971.0" x2="1269.2" y2="975.5" stroke="#000" stroke-width="2"/>
<line x1="794.5" y1="971.0" x2="803.0" y2="971.0" stroke="#000" stroke-width="2"/>
<text transform="translate(790.5,980.1) scale(1,1.05)" font-size="27.5" text-anchor="end" fill="#000"  stroke="#000" stroke-width="0.3">1.2</text>
<line x1="794.5" y1="894.3" x2="803.0" y2="894.3" stroke="#000" stroke-width="2"/>
<text transform="translate(790.5,903.4) scale(1,1.05)" font-size="27.5" text-anchor="end" fill="#000"  stroke="#000" stroke-width="0.3">1.4</text>
<line x1="794.5" y1="817.6" x2="803.0" y2="817.6" stroke="#000" stroke-width="2"/>
<text transform="translate(790.5,826.7) scale(1,1.05)" font-size="27.5" text-anchor="end" fill="#000"  stroke="#000" stroke-width="0.3">1.6</text>
<line x1="794.5" y1="740.9" x2="803.0" y2="740.9" stroke="#000" stroke-width="2"/>
<text transform="translate(790.5,750.0) scale(1,1.05)" font-size="27.5" text-anchor="end" fill="#000"  stroke="#000" stroke-width="0.3">1.8</text>
<line x1="794.5" y1="664.2" x2="803.0" y2="664.2" stroke="#000" stroke-width="2"/>
<text transform="translate(790.5,673.3) scale(1,1.05)" font-size="27.5" text-anchor="end" fill="#000"  stroke="#000" stroke-width="0.3">2.0</text>
<line x1="794.5" y1="587.5" x2="803.0" y2="587.5" stroke="#000" stroke-width="2"/>
<text transform="translate(790.5,596.6) scale(1,1.05)" font-size="27.5" text-anchor="end" fill="#000"  stroke="#000" stroke-width="0.3">2.2</text>
<line x1="798.5" y1="932.6" x2="803.0" y2="932.6" stroke="#000" stroke-width="2"/>
<line x1="798.5" y1="856.0" x2="803.0" y2="856.0" stroke="#000" stroke-width="2"/>
<line x1="798.5" y1="779.2" x2="803.0" y2="779.2" stroke="#000" stroke-width="2"/>
<line x1="798.5" y1="702.5" x2="803.0" y2="702.5" stroke="#000" stroke-width="2"/>
<line x1="798.5" y1="625.8" x2="803.0" y2="625.8" stroke="#000" stroke-width="2"/>
<text x="856.4" y="1060.5" font-size="35.8" stroke="#000" stroke-width="0.3">Current density (mA·cm<tspan font-size="23" dy="-12">-2</tspan><tspan dy="12">)</tspan></text>
<text transform="translate(737,760) rotate(-90)" font-size="35.8" text-anchor="middle" stroke="#000" stroke-width="0.3"><tspan font-style="italic">E</tspan>-<tspan font-style="italic">iR</tspan> (V)</text>
<line x1="913" y1="843" x2="925" y2="843" stroke="#e64c37" stroke-width="3.2" stroke-linecap="round"/>
<line x1="944.5" y1="843" x2="956.5" y2="843" stroke="#e64c37" stroke-width="3.2" stroke-linecap="round"/>
<rect x="928.1" y="836.4" width="13.2" height="13.2" fill="#e64c37"/>
<text x="965" y="850.6" font-size="22.1" stroke="#000" stroke-width="0.3">RuMo@MoOx-JH || NiFe-LDH 60 °C</text>
<line x1="913" y1="869.4" x2="925" y2="869.4" stroke="#efc002" stroke-width="3.2" stroke-linecap="round"/>
<line x1="944.5" y1="869.4" x2="956.5" y2="869.4" stroke="#efc002" stroke-width="3.2" stroke-linecap="round"/>
<rect x="928.1" y="862.8" width="13.2" height="13.2" fill="#efc002"/>
<text x="965" y="877.1" font-size="22.1" stroke="#000" stroke-width="0.3">RuMo@MoOx-JH || IrO<tspan font-size="14.5" dy="5">2</tspan><tspan dy="-5"> 60 °C</tspan></text>
<line x1="913" y1="901.2" x2="925" y2="901.2" stroke="#3ec46f" stroke-width="3.2" stroke-linecap="round"/>
<line x1="944.5" y1="901.2" x2="956.5" y2="901.2" stroke="#3ec46f" stroke-width="3.2" stroke-linecap="round"/>
<rect x="928.1" y="894.6" width="13.2" height="13.2" fill="#3ec46f"/>
<text x="965" y="908.8" font-size="22.1" stroke="#000" stroke-width="0.3">RuMo@MoOx-JH || Ni foam 60 °C</text>
<text x="965" y="959" font-size="22.1" stroke="#000" stroke-width="0.3">Pressure = 1 bar</text>
<text x="1104.6" y="578.7" font-size="21.6" fill="#3ec46f" stroke="#3ec46f" stroke-width="0.3">2.24 V @ 1A·cm<tspan font-size="15" dy="-7">-2</tspan></text>
<text x="1146.8" y="703.6" font-size="21.6" fill="#efc002" stroke="#efc002" stroke-width="0.3">1.83 V @ 1A·cm<tspan font-size="15" dy="-7">-2</tspan></text>
<text x="1146.8" y="807.1" font-size="21.6" fill="#ea0a0f" stroke="#ea0a0f" stroke-width="0.3">1.74 V @ 1A·cm<tspan font-size="15" dy="-7">-2</tspan></text>
<defs>
<linearGradient id="gG" x1="0" x2="1" y1="0" y2="0">
 <stop offset="0" stop-color="#3ec46f"/><stop offset="0.1" stop-color="#5ccb84"/><stop offset="0.3" stop-color="#b9e7c8"/>
 <stop offset="0.5" stop-color="#c9eed7"/><stop offset="0.66" stop-color="#b4e4c3"/><stop offset="0.86" stop-color="#78d29a"/><stop offset="1" stop-color="#42c572"/></linearGradient>
<linearGradient id="gB" x1="0" x2="1" y1="0" y2="0">
 <stop offset="0" stop-color="#3a6399"/><stop offset="0.1" stop-color="#5a7eab"/><stop offset="0.32" stop-color="#b2c8e2"/>
 <stop offset="0.5" stop-color="#c0d4ea"/><stop offset="0.66" stop-color="#aac0dc"/><stop offset="0.86" stop-color="#6d8db6"/><stop offset="1" stop-color="#3d6699"/></linearGradient>
<linearGradient id="gY" x1="0" x2="1" y1="0" y2="0">
 <stop offset="0" stop-color="#fdbf1f"/><stop offset="0.1" stop-color="#fdca48"/><stop offset="0.32" stop-color="#fde6ab"/>
 <stop offset="0.5" stop-color="#feecbb"/><stop offset="0.66" stop-color="#fde4a6"/><stop offset="0.86" stop-color="#fdcf5e"/><stop offset="1" stop-color="#fdc022"/></linearGradient>
<linearGradient id="gB2" x1="0" x2="1" y1="0" y2="0">
 <stop offset="0" stop-color="#3b6398"/><stop offset="0.1" stop-color="#6580ad"/><stop offset="0.32" stop-color="#c4c7da"/>
 <stop offset="0.5" stop-color="#d3d3e2"/><stop offset="0.66" stop-color="#c0c3d8"/><stop offset="0.86" stop-color="#7d90b6"/><stop offset="1" stop-color="#3e6699"/></linearGradient>
</defs>
<text x="22.2" y="1014" font-size="47.5" font-weight="bold" stroke="#000" stroke-width="0.15">d</text>
<rect x="109.5" y="1231" width="34.6" height="252.0" fill="url(#gG)"/>
<rect x="144.1" y="1270" width="34.6" height="213.0" fill="url(#gB)"/>
<rect x="178.7" y="1258" width="34.6" height="225.0" fill="url(#gY)"/>
<rect x="239.1" y="1247" width="34.6" height="236.0" fill="url(#gG)"/>
<rect x="273.7" y="1266" width="34.6" height="217.0" fill="url(#gB)"/>
<rect x="308.3" y="1254" width="34.6" height="229.0" fill="url(#gY)"/>
<rect x="368.7" y="1243" width="34.6" height="240.0" fill="url(#gG)"/>
<rect x="403.3" y="1268.5" width="34.6" height="214.5" fill="url(#gB)"/>
<rect x="437.9" y="1255" width="34.6" height="228.0" fill="url(#gY)"/>
<rect x="498.3" y="1273" width="34.6" height="210.0" fill="url(#gG)"/>
<rect x="532.9" y="1263" width="34.6" height="220.0" fill="url(#gB)"/>
<rect x="567.5" y="1236" width="34.6" height="247.0" fill="url(#gY)"/>
<line x1="171.8" y1="1202.8" x2="281.0" y2="1202.8" stroke="#ea0a0f" stroke-width="2.4" stroke-linecap="round"/>
<line x1="302.0" y1="1202.1" x2="410.5" y2="1194.3" stroke="#ea0a0f" stroke-width="2.4" stroke-linecap="round"/>
<line x1="431.5" y1="1194.3" x2="539.5" y2="1202.1" stroke="#ea0a0f" stroke-width="2.4" stroke-linecap="round"/>
<rect x="154.7" y="1196.7" width="13.2" height="13.2" fill="#ea0a0f"/>
<rect x="284.9" y="1196.7" width="13.2" height="13.2" fill="#ea0a0f"/>
<rect x="543.4" y="1196.7" width="13.2" height="13.2" fill="#ea0a0f"/>
<line x1="414" y1="1188.9" x2="427" y2="1188.9" stroke="#ea0a0f" stroke-opacity="0.25" stroke-width="1"/>
<line x1="414" y1="1191.5" x2="427" y2="1191.5" stroke="#ea0a0f" stroke-opacity="0.6" stroke-width="1"/>
<line x1="414" y1="1194.3" x2="427" y2="1194.3" stroke="#ea0a0f" stroke-opacity="0.7" stroke-width="1"/>
<line x1="414" y1="1196.5" x2="427" y2="1196.5" stroke="#ea0a0f" stroke-opacity="0.3" stroke-width="1"/>
<line x1="414" y1="1199.3" x2="427" y2="1199.3" stroke="#ea0a0f" stroke-opacity="0.55" stroke-width="1"/>
<path d="M501.9,1192.8 C505,1180 525,1172.5 553,1173.5" fill="none" stroke="#2271d8" stroke-width="1.6"/>
<polygon points="552.4,1170 564.5,1175.2 552.4,1177" fill="#2271d8"/>
<line x1="98.0" y1="1064.0" x2="615.5" y2="1064.0" stroke="#000" stroke-width="2.5"/>
<line x1="98.0" y1="1483.0" x2="615.5" y2="1483.0" stroke="#000" stroke-width="2.5"/>
<line x1="98.0" y1="1063.0" x2="98.0" y2="1484.0" stroke="#000" stroke-width="2.5"/>
<line x1="615.5" y1="1063.0" x2="615.5" y2="1484.0" stroke="#ea0a0f" stroke-width="2.5"/>
<line x1="89.5" y1="1483.0" x2="98.0" y2="1483.0" stroke="#000" stroke-width="2"/>
<text transform="translate(85.3,1492.1) scale(1,1.05)" font-size="27.5" text-anchor="end" fill="#000"  stroke="#000" stroke-width="0.3">0</text>
<line x1="89.5" y1="1378.2" x2="98.0" y2="1378.2" stroke="#000" stroke-width="2"/>
<text transform="translate(85.3,1387.3) scale(1,1.05)" font-size="27.5" text-anchor="end" fill="#000"  stroke="#000" stroke-width="0.3">2</text>
<line x1="89.5" y1="1273.5" x2="98.0" y2="1273.5" stroke="#000" stroke-width="2"/>
<text transform="translate(85.3,1282.6) scale(1,1.05)" font-size="27.5" text-anchor="end" fill="#000"  stroke="#000" stroke-width="0.3">4</text>
<line x1="89.5" y1="1168.8" x2="98.0" y2="1168.8" stroke="#000" stroke-width="2"/>
<text transform="translate(85.3,1177.8) scale(1,1.05)" font-size="27.5" text-anchor="end" fill="#000"  stroke="#000" stroke-width="0.3">6</text>
<line x1="89.5" y1="1064.0" x2="98.0" y2="1064.0" stroke="#000" stroke-width="2"/>
<text transform="translate(85.3,1073.1) scale(1,1.05)" font-size="27.5" text-anchor="end" fill="#000"  stroke="#000" stroke-width="0.3">8</text>
<line x1="93.5" y1="1430.6" x2="98.0" y2="1430.6" stroke="#000" stroke-width="2"/>
<line x1="93.5" y1="1325.9" x2="98.0" y2="1325.9" stroke="#000" stroke-width="2"/>
<line x1="93.5" y1="1221.1" x2="98.0" y2="1221.1" stroke="#000" stroke-width="2"/>
<line x1="93.5" y1="1116.4" x2="98.0" y2="1116.4" stroke="#000" stroke-width="2"/>
<line x1="607.0" y1="1483.0" x2="615.5" y2="1483.0" stroke="#ea0a0f" stroke-width="2"/>
<text transform="translate(624.8,1492.1) scale(1,1.05)" font-size="27.5" text-anchor="start" fill="#ea0a0f"  stroke="#ea0a0f" stroke-width="0.3">0</text>
<line x1="607.0" y1="1343.3" x2="615.5" y2="1343.3" stroke="#ea0a0f" stroke-width="2"/>
<text transform="translate(624.8,1352.4) scale(1,1.05)" font-size="27.5" text-anchor="start" fill="#ea0a0f"  stroke="#ea0a0f" stroke-width="0.3">50</text>
<line x1="607.0" y1="1203.7" x2="615.5" y2="1203.7" stroke="#ea0a0f" stroke-width="2"/>
<text transform="translate(624.8,1212.8) scale(1,1.05)" font-size="27.5" text-anchor="start" fill="#ea0a0f"  stroke="#ea0a0f" stroke-width="0.3">100</text>
<line x1="607.0" y1="1064.0" x2="615.5" y2="1064.0" stroke="#ea0a0f" stroke-width="2"/>
<text transform="translate(624.8,1073.1) scale(1,1.05)" font-size="27.5" text-anchor="start" fill="#ea0a0f"  stroke="#ea0a0f" stroke-width="0.3">150</text>
<line x1="611.0" y1="1413.2" x2="615.5" y2="1413.2" stroke="#ea0a0f" stroke-width="2"/>
<line x1="611.0" y1="1273.5" x2="615.5" y2="1273.5" stroke="#ea0a0f" stroke-width="2"/>
<line x1="611.0" y1="1133.8" x2="615.5" y2="1133.8" stroke="#ea0a0f" stroke-width="2"/>
<line x1="162.2" y1="1483.0" x2="162.2" y2="1491.5" stroke="#000" stroke-width="2"/>
<text transform="translate(162.2,1519) scale(1,1.05)" font-size="27.5" text-anchor="middle" fill="#000"  stroke="#000" stroke-width="0.3">1</text>
<line x1="291.8" y1="1483.0" x2="291.8" y2="1491.5" stroke="#000" stroke-width="2"/>
<text transform="translate(291.8,1519) scale(1,1.05)" font-size="27.5" text-anchor="middle" fill="#000"  stroke="#000" stroke-width="0.3">2</text>
<line x1="421.4" y1="1483.0" x2="421.4" y2="1491.5" stroke="#000" stroke-width="2"/>
<text transform="translate(421.4,1519) scale(1,1.05)" font-size="27.5" text-anchor="middle" fill="#000"  stroke="#000" stroke-width="0.3">3</text>
<line x1="551.0" y1="1483.0" x2="551.0" y2="1491.5" stroke="#000" stroke-width="2"/>
<text transform="translate(551.0,1519) scale(1,1.05)" font-size="27.5" text-anchor="middle" fill="#000"  stroke="#000" stroke-width="0.3">4</text>
<line x1="97.4" y1="1483.0" x2="97.4" y2="1487.5" stroke="#000" stroke-width="2"/>
<line x1="227.0" y1="1483.0" x2="227.0" y2="1487.5" stroke="#000" stroke-width="2"/>
<line x1="356.6" y1="1483.0" x2="356.6" y2="1487.5" stroke="#000" stroke-width="2"/>
<line x1="486.2" y1="1483.0" x2="486.2" y2="1487.5" stroke="#000" stroke-width="2"/>
<line x1="615.8" y1="1483.0" x2="615.8" y2="1487.5" stroke="#000" stroke-width="2"/>
<text x="272.6" y="1570" font-size="35.8" stroke="#000" stroke-width="0.3">Time (min)</text>
<text transform="translate(56.6,1273) rotate(-90)" font-size="35.8" text-anchor="middle" stroke="#000" stroke-width="0.3">Energy consumption (kW·h·m<tspan font-size="23" dy="-12">-3</tspan><tspan dy="12">)</tspan></text>
<text transform="translate(707.4,1272.8) rotate(-90)" font-size="35.8" text-anchor="middle" fill="#ea0a0f" stroke="#ea0a0f" stroke-width="0.3">Faradaic efficiency (%)</text>
<text x="104" y="1089" font-size="22.1" stroke="#000" stroke-width="0.3">Pressure = 1 bar</text>
<text x="103.5" y="1115.4" font-size="22.1" stroke="#000" stroke-width="0.3">Temperature = 20 °C</text>
<rect x="432.8" y="1073.9" width="42.9" height="20.8" fill="url(#gG)"/>
<text x="486.8" y="1092.1" font-size="22.1" stroke="#000" stroke-width="0.3">100 mA·cm<tspan font-size="15" dy="-7">-2</tspan></text>
<rect x="432.8" y="1103.6" width="42.9" height="20.7" fill="url(#gB)"/>
<text x="486.8" y="1121.7" font-size="22.1" stroke="#000" stroke-width="0.3">300 mA·cm<tspan font-size="15" dy="-7">-2</tspan></text>
<rect x="432.8" y="1133.2" width="42.9" height="20.7" fill="url(#gY)"/>
<text x="486.8" y="1151.4" font-size="22.1" stroke="#000" stroke-width="0.3">500 mA·cm<tspan font-size="15" dy="-7">-2</tspan></text>
<text x="713.3" y="1020.6" font-size="47.5" font-weight="bold" stroke="#000" stroke-width="0.15">e</text>
<rect x="821.9" y="1184" width="46" height="308.5" fill="url(#gG)"/>
<rect x="867.9" y="1183" width="46" height="309.5" fill="url(#gB2)"/>
<rect x="913.9" y="1210.5" width="46" height="282.0" fill="url(#gY)"/>
<rect x="994.3" y="1206" width="46" height="286.5" fill="url(#gG)"/>
<rect x="1040.3" y="1224" width="46" height="268.5" fill="url(#gB2)"/>
<rect x="1086.3" y="1226" width="46" height="266.5" fill="url(#gY)"/>
<rect x="1166.7" y="1191.5" width="46" height="301.0" fill="url(#gG)"/>
<rect x="1212.7" y="1220" width="46" height="272.5" fill="url(#gB2)"/>
<rect x="1258.7" y="1228" width="46" height="264.5" fill="url(#gY)"/>
<rect x="804.5" y="1073.3" width="518.0" height="419.20000000000005" fill="none" stroke="#000" stroke-width="2.6"/>
<line x1="796.0" y1="1492.5" x2="804.5" y2="1492.5" stroke="#000" stroke-width="2"/>
<text transform="translate(792.4,1501.6) scale(1,1.05)" font-size="27.5" text-anchor="end" fill="#000"  stroke="#000" stroke-width="0.3">0</text>
<line x1="796.0" y1="1352.8" x2="804.5" y2="1352.8" stroke="#000" stroke-width="2"/>
<text transform="translate(792.4,1361.9) scale(1,1.05)" font-size="27.5" text-anchor="end" fill="#000"  stroke="#000" stroke-width="0.3">2</text>
<line x1="796.0" y1="1213.0" x2="804.5" y2="1213.0" stroke="#000" stroke-width="2"/>
<text transform="translate(792.4,1222.1) scale(1,1.05)" font-size="27.5" text-anchor="end" fill="#000"  stroke="#000" stroke-width="0.3">4</text>
<line x1="796.0" y1="1073.3" x2="804.5" y2="1073.3" stroke="#000" stroke-width="2"/>
<text transform="translate(792.4,1082.4) scale(1,1.05)" font-size="27.5" text-anchor="end" fill="#000"  stroke="#000" stroke-width="0.3">6</text>
<line x1="800.0" y1="1422.6" x2="804.5" y2="1422.6" stroke="#000" stroke-width="2"/>
<line x1="800.0" y1="1282.9" x2="804.5" y2="1282.9" stroke="#000" stroke-width="2"/>
<line x1="800.0" y1="1143.2" x2="804.5" y2="1143.2" stroke="#000" stroke-width="2"/>
<line x1="891.0" y1="1492.5" x2="891.0" y2="1501.0" stroke="#000" stroke-width="2"/>
<text transform="translate(891.0,1529) scale(1,1.05)" font-size="27.5" text-anchor="middle" fill="#000"  stroke="#000" stroke-width="0.3">100</text>
<line x1="1063.2" y1="1492.5" x2="1063.2" y2="1501.0" stroke="#000" stroke-width="2"/>
<text transform="translate(1063.2,1529) scale(1,1.05)" font-size="27.5" text-anchor="middle" fill="#000"  stroke="#000" stroke-width="0.3">300</text>
<line x1="1235.4" y1="1492.5" x2="1235.4" y2="1501.0" stroke="#000" stroke-width="2"/>
<text transform="translate(1235.4,1529) scale(1,1.05)" font-size="27.5" text-anchor="middle" fill="#000"  stroke="#000" stroke-width="0.3">500</text>
<line x1="804.9" y1="1492.5" x2="804.9" y2="1497.0" stroke="#000" stroke-width="2"/>
<line x1="977.1" y1="1492.5" x2="977.1" y2="1497.0" stroke="#000" stroke-width="2"/>
<line x1="1149.3" y1="1492.5" x2="1149.3" y2="1497.0" stroke="#000" stroke-width="2"/>
<line x1="1321.5" y1="1492.5" x2="1321.5" y2="1497.0" stroke="#000" stroke-width="2"/>
<text x="857.7" y="1582" font-size="35.8" stroke="#000" stroke-width="0.3">Current density (mA·cm<tspan font-size="23" dy="-12">-2</tspan><tspan dy="12">)</tspan></text>
<text transform="translate(763.6,1282.5) rotate(-90)" font-size="35.8" text-anchor="middle" stroke="#000" stroke-width="0.3">Energy consumption (kW·h·m<tspan font-size="23" dy="-12">-3</tspan><tspan dy="12">)</tspan></text>
<text x="815.3" y="1097.8" font-size="22.1" stroke="#000" stroke-width="0.3">Pressure = 1 bar</text>
<rect x="1206.5" y="1081" width="43.5" height="21.0" fill="url(#gG)"/>
<text x="1259" y="1099.3" font-size="22.1" stroke="#000" stroke-width="0.3">20 °C</text>
<rect x="1206.5" y="1108" width="43.5" height="20.5" fill="url(#gB2)"/>
<text x="1259" y="1126.0" font-size="22.1" stroke="#000" stroke-width="0.3">40 °C</text>
<rect x="1206.5" y="1135" width="43.5" height="21.0" fill="url(#gY)"/>
<text x="1259" y="1153.3" font-size="22.1" stroke="#000" stroke-width="0.3">60 °C</text>
</svg></body></html>
